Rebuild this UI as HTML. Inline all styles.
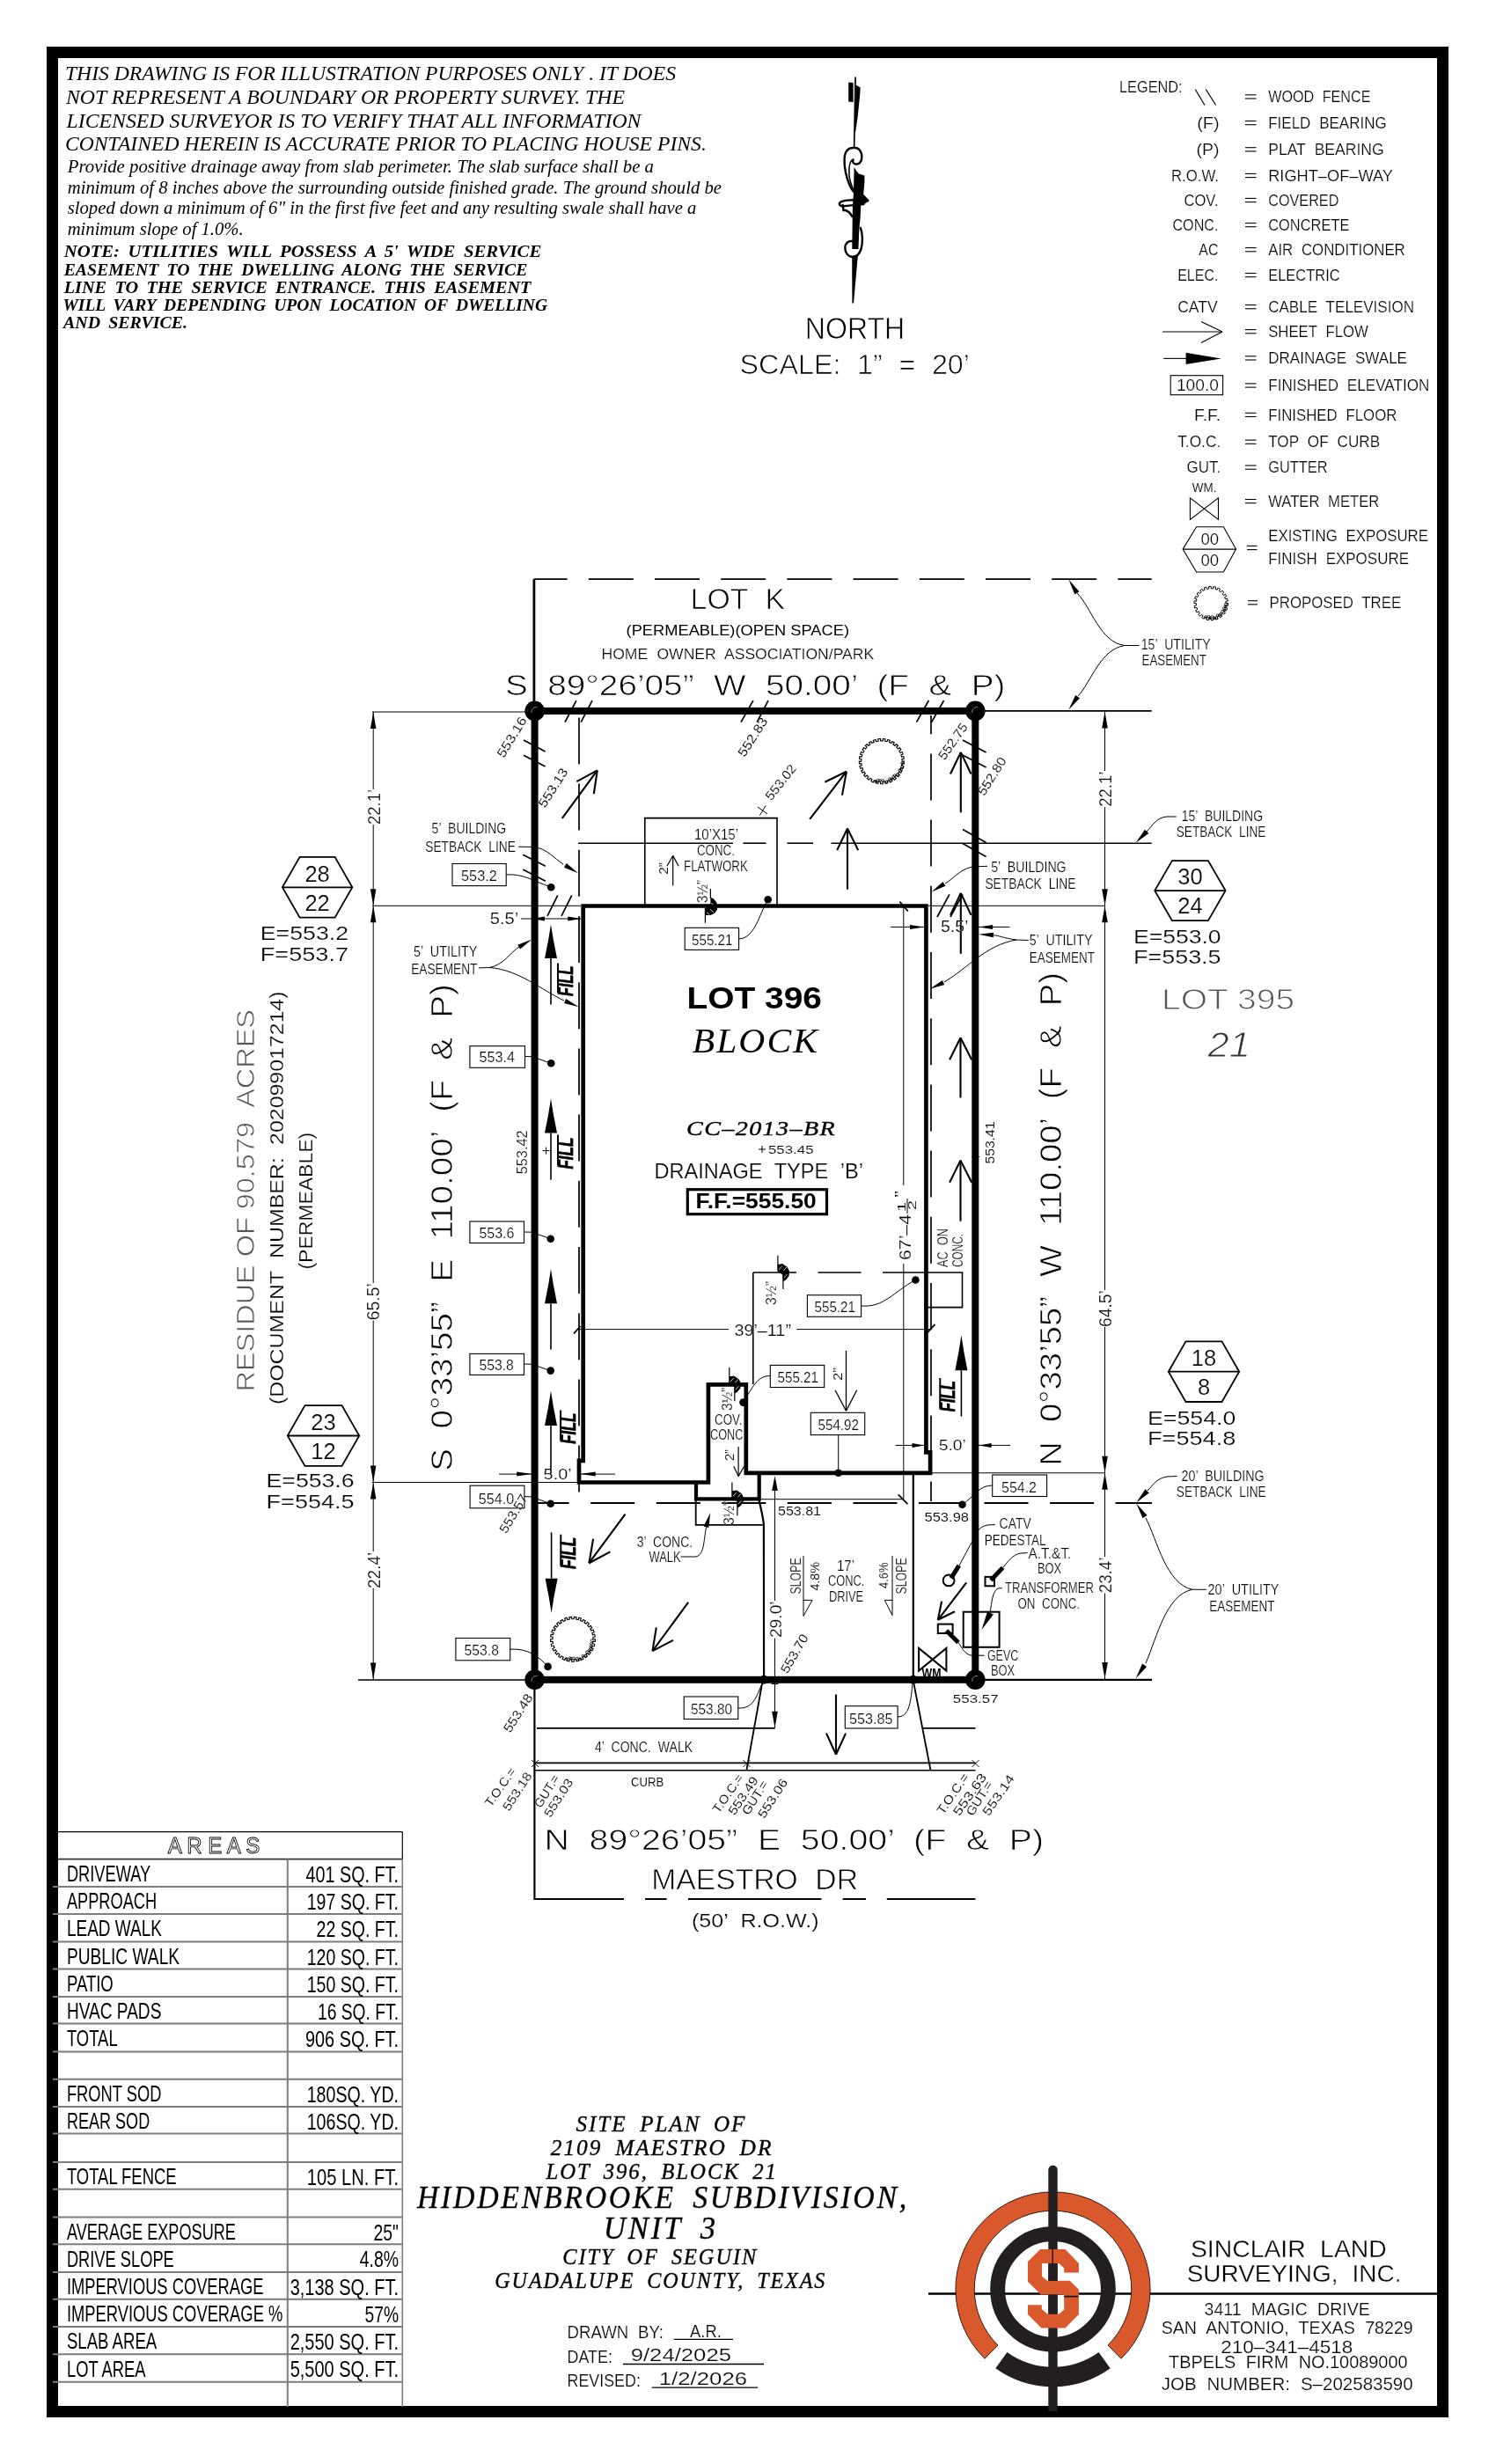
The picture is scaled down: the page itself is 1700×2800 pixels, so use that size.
<!DOCTYPE html>
<html><head><meta charset="utf-8"><title>Site Plan</title>
<style>
html,body{margin:0;padding:0;background:#fff}
svg{display:block;will-change:transform}
text{fill:#000;white-space:pre}
.c{font-family:"Liberation Sans",sans-serif;stroke:#fff;stroke-width:.018em;word-spacing:.3em}
.cb{font-family:"Liberation Sans",sans-serif;font-weight:bold}
.cn{font-family:"Liberation Sans",sans-serif}
.g{font-family:"Liberation Sans",sans-serif;fill:#555;stroke:#fff;stroke-width:.5px}
.ti{font-family:"Liberation Serif",serif;font-style:italic;letter-spacing:.08em;word-spacing:.25em;stroke:#000;stroke-width:.35px}
.cn2{font-family:"Liberation Sans",sans-serif;stroke:#fff;stroke-width:.25px;word-spacing:.3em}
.ti2{font-family:"Liberation Serif",serif;font-style:italic;letter-spacing:.05em}
.tib{font-family:"Liberation Serif",serif;font-style:italic;font-weight:bold;letter-spacing:.05em}
.gi{font-family:"Liberation Sans",sans-serif;font-style:italic;fill:#333;stroke:#fff;stroke-width:.5px}
.fl{font-family:"Liberation Sans",sans-serif;font-style:italic;font-weight:bold;stroke:#000;stroke-width:.7px}
.ti3{font-family:"Liberation Serif",serif;font-style:italic;stroke:#000;stroke-width:.4px;letter-spacing:.05em}
.i{font-family:"Liberation Serif",serif;font-style:italic}
.bi{font-family:"Liberation Serif",serif;font-style:italic;font-weight:bold}
.ci{font-family:"Liberation Sans",sans-serif;font-style:italic;stroke:#fff;stroke-width:.4px}
.cbi{font-family:"Liberation Sans",sans-serif;font-style:italic;font-weight:bold}
.ol{font-family:"Liberation Sans",sans-serif;fill:#fff;stroke:#000;stroke-width:.9px}
</style></head><body>
<svg width="1700" height="2800" viewBox="0 0 1700 2800">
<rect x="0" y="0" width="1700" height="2800" fill="#fff"/>
<g id="p01_border_notes">
<rect x="59.5" y="59.5" width="1580.0" height="2681.0" stroke="#000" stroke-width="13" fill="none"/>
<text class="i" x="73.9" y="90.9" font-size="23.7" textLength="694.1" lengthAdjust="spacingAndGlyphs" >THIS DRAWING IS FOR ILLUSTRATION PURPOSES ONLY . IT DOES</text>
<text class="i" x="75.0" y="117.8" font-size="23.7" textLength="635.0" lengthAdjust="spacingAndGlyphs" >NOT REPRESENT A BOUNDARY OR PROPERTY SURVEY. THE</text>
<text class="i" x="75.6" y="144.9" font-size="23.7" textLength="652.8" lengthAdjust="spacingAndGlyphs" >LICENSED SURVEYOR IS TO VERIFY THAT ALL INFORMATION</text>
<text class="i" x="73.9" y="171.1" font-size="23.7" textLength="728.9" lengthAdjust="spacingAndGlyphs" >CONTAINED HEREIN IS ACCURATE PRIOR TO PLACING HOUSE PINS.</text>
<text class="i" x="76.7" y="196.0" font-size="20.5" textLength="666.3" lengthAdjust="spacingAndGlyphs" >Provide positive drainage away from slab perimeter. The slab surface shall be a</text>
<text class="i" x="76.7" y="219.9" font-size="20.5" textLength="743.3" lengthAdjust="spacingAndGlyphs" >minimum of 8 inches above the surrounding outside finished grade. The ground should be</text>
<text class="i" x="76.7" y="243.2" font-size="20.5" textLength="714.8" lengthAdjust="spacingAndGlyphs" >sloped down a minimum of 6" in the first five feet and any resulting swale shall have a</text>
<text class="i" x="76.7" y="267.0" font-size="20.5" textLength="200.0" lengthAdjust="spacingAndGlyphs" >minimum slope of 1.0%.</text>
<text class="bi" x="72.7" y="292.3" font-size="18.8" textLength="542.6" lengthAdjust="spacingAndGlyphs" word-spacing="4">NOTE: UTILITIES WILL POSSESS A 5' WIDE SERVICE</text>
<text class="bi" x="72.7" y="312.8" font-size="18.8" textLength="526.7" lengthAdjust="spacingAndGlyphs" word-spacing="4">EASEMENT TO THE DWELLING ALONG THE SERVICE</text>
<text class="bi" x="72.7" y="332.7" font-size="18.8" textLength="530.7" lengthAdjust="spacingAndGlyphs" word-spacing="4">LINE TO THE SERVICE ENTRANCE. THIS EASEMENT</text>
<text class="bi" x="71.5" y="352.6" font-size="18.8" textLength="550.5" lengthAdjust="spacingAndGlyphs" word-spacing="4">WILL VARY DEPENDING UPON LOCATION OF DWELLING</text>
<text class="bi" x="72.0" y="372.5" font-size="18.8" textLength="141.0" lengthAdjust="spacingAndGlyphs" word-spacing="4">AND SERVICE.</text>
</g>
<g id="p02_north">
<line x1="972.1" y1="87.4" x2="970.6" y2="168.3" stroke="#000" stroke-width="1.7"/>
<path d="M964.2,93.5 L969.6,94 L969.6,116 L964.2,115.5 Z" fill="#000"/>
<path d="M972.6,96.5 L977.7,99.4 L977.1,109 L974.8,131.2 L972.2,150 L971.2,150 Z" fill="#000"/>
<path d="M970.6,168 C964,167.5 960,172 959.6,180 C959.2,190 961,200 965.9,211.3 C967.5,215 969,217 970.6,218.4" stroke="#000" stroke-width="2.4" fill="none" />
<path d="M970.6,168 C976,167.5 979.5,172 979.3,179 C979,185 975.5,187.2 971.5,186.4 C968.8,185.5 968.6,182 970,180.5" stroke="#000" stroke-width="2.4" fill="none" />
<path d="M968.2,181.5 C965,185 964.3,190 965,199.5 C965.6,205 967.6,211 970.6,217" stroke="#000" stroke-width="1.6" fill="none" />
<path d="M970.6,190 L973.5,194.5 L976,197.5 L982.4,199.5 L982.4,206.6 L981.2,220.7 L987.7,227.8 L982.4,231.9 L978.3,232.5 L977.7,246.6 L976.5,258.4 L975.4,283 L968.3,283 L968.9,234 L970,219 Z" fill="#000"/>
<path d="M987.2,228.2 C975,227 962,227.2 956.8,228.8 C952.8,230.2 952.8,233.2 957,234.4 C962,234.2 975,232.6 982.4,231.9" stroke="#000" stroke-width="2.4" fill="none" />
<path d="M957.5,232 L958.5,239 L961,239 C964,240 967,243 968.9,247" stroke="#000" stroke-width="2.4" fill="none" />
<path d="M977.6,258 C980.5,265 980.6,276 978.5,283 C976.5,289 973,292 968.8,292 C963.5,291.5 960.2,287 960.3,281.5 C960.6,276.5 964,273.6 968,274 C970.5,274.5 971,277 969.8,279" stroke="#000" stroke-width="2.4" fill="none" />
<path d="M968.2,291 L975,289 L970,344.6 L968.4,344.6 Z" fill="#000"/>
<text class="c" x="914.8" y="384.7" font-size="35.5" style="stroke-width:0.75px" textLength="113.5" lengthAdjust="spacingAndGlyphs" >NORTH</text>
<text class="c" x="840.6" y="425.3" font-size="31.5" style="stroke-width:0.75px" textLength="261.4" lengthAdjust="spacingAndGlyphs" >SCALE: 1” = 20’</text>
</g>
<g id="p03_legend">
<text class="c" x="1272.0" y="105.3" font-size="17.5" style="stroke-width:0.22px" textLength="71.6" lengthAdjust="spacingAndGlyphs" >LEGEND:</text>
<text class="c" x="1441.2" y="116.0" font-size="17.5" style="stroke-width:0.22px" textLength="116.3" lengthAdjust="spacingAndGlyphs" >WOOD FENCE</text>
<line x1="1415.0" y1="107.8" x2="1427.5" y2="107.8" stroke="#000" stroke-width="1.1"/>
<line x1="1415.0" y1="112.0" x2="1427.5" y2="112.0" stroke="#000" stroke-width="1.1"/>
<text class="c" x="1441.2" y="145.7" font-size="17.5" style="stroke-width:0.22px" textLength="134.5" lengthAdjust="spacingAndGlyphs" >FIELD BEARING</text>
<line x1="1415.0" y1="137.5" x2="1427.5" y2="137.5" stroke="#000" stroke-width="1.1"/>
<line x1="1415.0" y1="141.7" x2="1427.5" y2="141.7" stroke="#000" stroke-width="1.1"/>
<text class="c" x="1441.2" y="175.9" font-size="17.5" style="stroke-width:0.22px" textLength="131.5" lengthAdjust="spacingAndGlyphs" >PLAT BEARING</text>
<line x1="1415.0" y1="167.7" x2="1427.5" y2="167.7" stroke="#000" stroke-width="1.1"/>
<line x1="1415.0" y1="171.9" x2="1427.5" y2="171.9" stroke="#000" stroke-width="1.1"/>
<text class="c" x="1441.2" y="205.6" font-size="17.5" style="stroke-width:0.22px" textLength="141.7" lengthAdjust="spacingAndGlyphs" >RIGHT–OF–WAY</text>
<line x1="1415.0" y1="197.4" x2="1427.5" y2="197.4" stroke="#000" stroke-width="1.1"/>
<line x1="1415.0" y1="201.6" x2="1427.5" y2="201.6" stroke="#000" stroke-width="1.1"/>
<text class="c" x="1441.2" y="233.6" font-size="17.5" style="stroke-width:0.22px" textLength="80.2" lengthAdjust="spacingAndGlyphs" >COVERED</text>
<line x1="1415.0" y1="225.4" x2="1427.5" y2="225.4" stroke="#000" stroke-width="1.1"/>
<line x1="1415.0" y1="229.6" x2="1427.5" y2="229.6" stroke="#000" stroke-width="1.1"/>
<text class="c" x="1441.2" y="261.7" font-size="17.5" style="stroke-width:0.22px" textLength="92.2" lengthAdjust="spacingAndGlyphs" >CONCRETE</text>
<line x1="1415.0" y1="253.5" x2="1427.5" y2="253.5" stroke="#000" stroke-width="1.1"/>
<line x1="1415.0" y1="257.7" x2="1427.5" y2="257.7" stroke="#000" stroke-width="1.1"/>
<text class="c" x="1441.2" y="289.8" font-size="17.5" style="stroke-width:0.22px" textLength="155.6" lengthAdjust="spacingAndGlyphs" >AIR CONDITIONER</text>
<line x1="1415.0" y1="281.6" x2="1427.5" y2="281.6" stroke="#000" stroke-width="1.1"/>
<line x1="1415.0" y1="285.8" x2="1427.5" y2="285.8" stroke="#000" stroke-width="1.1"/>
<text class="c" x="1441.2" y="318.7" font-size="17.5" style="stroke-width:0.22px" textLength="81.5" lengthAdjust="spacingAndGlyphs" >ELECTRIC</text>
<line x1="1415.0" y1="310.5" x2="1427.5" y2="310.5" stroke="#000" stroke-width="1.1"/>
<line x1="1415.0" y1="314.7" x2="1427.5" y2="314.7" stroke="#000" stroke-width="1.1"/>
<text class="c" x="1441.2" y="354.8" font-size="17.5" style="stroke-width:0.22px" textLength="165.8" lengthAdjust="spacingAndGlyphs" >CABLE TELEVISION</text>
<line x1="1415.0" y1="346.6" x2="1427.5" y2="346.6" stroke="#000" stroke-width="1.1"/>
<line x1="1415.0" y1="350.8" x2="1427.5" y2="350.8" stroke="#000" stroke-width="1.1"/>
<text class="c" x="1441.2" y="382.8" font-size="17.5" style="stroke-width:0.22px" textLength="113.6" lengthAdjust="spacingAndGlyphs" >SHEET FLOW</text>
<line x1="1415.0" y1="374.6" x2="1427.5" y2="374.6" stroke="#000" stroke-width="1.1"/>
<line x1="1415.0" y1="378.8" x2="1427.5" y2="378.8" stroke="#000" stroke-width="1.1"/>
<text class="c" x="1441.2" y="413.0" font-size="17.5" style="stroke-width:0.22px" textLength="157.8" lengthAdjust="spacingAndGlyphs" >DRAINAGE SWALE</text>
<line x1="1415.0" y1="404.8" x2="1427.5" y2="404.8" stroke="#000" stroke-width="1.1"/>
<line x1="1415.0" y1="409.0" x2="1427.5" y2="409.0" stroke="#000" stroke-width="1.1"/>
<text class="c" x="1441.2" y="444.1" font-size="17.5" style="stroke-width:0.22px" textLength="183.1" lengthAdjust="spacingAndGlyphs" >FINISHED ELEVATION</text>
<line x1="1415.0" y1="435.9" x2="1427.5" y2="435.9" stroke="#000" stroke-width="1.1"/>
<line x1="1415.0" y1="440.1" x2="1427.5" y2="440.1" stroke="#000" stroke-width="1.1"/>
<text class="c" x="1441.2" y="477.5" font-size="17.5" style="stroke-width:0.22px" textLength="146.2" lengthAdjust="spacingAndGlyphs" >FINISHED FLOOR</text>
<line x1="1415.0" y1="469.3" x2="1427.5" y2="469.3" stroke="#000" stroke-width="1.1"/>
<line x1="1415.0" y1="473.5" x2="1427.5" y2="473.5" stroke="#000" stroke-width="1.1"/>
<text class="c" x="1441.2" y="508.3" font-size="17.5" style="stroke-width:0.22px" textLength="127.0" lengthAdjust="spacingAndGlyphs" >TOP OF CURB</text>
<line x1="1415.0" y1="500.1" x2="1427.5" y2="500.1" stroke="#000" stroke-width="1.1"/>
<line x1="1415.0" y1="504.3" x2="1427.5" y2="504.3" stroke="#000" stroke-width="1.1"/>
<text class="c" x="1441.2" y="537.2" font-size="17.5" style="stroke-width:0.22px" textLength="67.4" lengthAdjust="spacingAndGlyphs" >GUTTER</text>
<line x1="1415.0" y1="529.0" x2="1427.5" y2="529.0" stroke="#000" stroke-width="1.1"/>
<line x1="1415.0" y1="533.2" x2="1427.5" y2="533.2" stroke="#000" stroke-width="1.1"/>
<text class="c" x="1441.2" y="575.7" font-size="17.5" style="stroke-width:0.22px" textLength="126.2" lengthAdjust="spacingAndGlyphs" >WATER METER</text>
<line x1="1415.0" y1="567.5" x2="1427.5" y2="567.5" stroke="#000" stroke-width="1.1"/>
<line x1="1415.0" y1="571.7" x2="1427.5" y2="571.7" stroke="#000" stroke-width="1.1"/>
<text class="c" x="1441.2" y="615.2" font-size="17.5" style="stroke-width:0.22px" textLength="181.8" lengthAdjust="spacingAndGlyphs" >EXISTING EXPOSURE</text>
<text class="c" x="1441.2" y="640.6" font-size="17.5" style="stroke-width:0.22px" textLength="159.8" lengthAdjust="spacingAndGlyphs" >FINISH EXPOSURE</text>
<line x1="1417.0" y1="620.4" x2="1428.5" y2="620.4" stroke="#000" stroke-width="1.1"/>
<line x1="1417.0" y1="624.6" x2="1428.5" y2="624.6" stroke="#000" stroke-width="1.1"/>
<text class="c" x="1442.5" y="690.9" font-size="17.5" style="stroke-width:0.22px" textLength="149.7" lengthAdjust="spacingAndGlyphs" >PROPOSED TREE</text>
<line x1="1418.0" y1="682.7" x2="1429.0" y2="682.7" stroke="#000" stroke-width="1.1"/>
<line x1="1418.0" y1="686.9" x2="1429.0" y2="686.9" stroke="#000" stroke-width="1.1"/>
<text class="c" x="1360.2" y="145.7" font-size="17.5" style="stroke-width:0.22px" textLength="25.4" lengthAdjust="spacingAndGlyphs" >(F)</text>
<text class="c" x="1359.6" y="175.9" font-size="17.5" style="stroke-width:0.22px" textLength="26.0" lengthAdjust="spacingAndGlyphs" >(P)</text>
<text class="c" x="1331.0" y="205.6" font-size="17.5" style="stroke-width:0.22px" textLength="54.0" lengthAdjust="spacingAndGlyphs" >R.O.W.</text>
<text class="c" x="1345.5" y="233.6" font-size="17.5" style="stroke-width:0.22px" textLength="39.0" lengthAdjust="spacingAndGlyphs" >COV.</text>
<text class="c" x="1332.4" y="261.7" font-size="17.5" style="stroke-width:0.22px" textLength="52.1" lengthAdjust="spacingAndGlyphs" >CONC.</text>
<text class="c" x="1362.3" y="289.8" font-size="17.5" style="stroke-width:0.22px" textLength="22.2" lengthAdjust="spacingAndGlyphs" >AC</text>
<text class="c" x="1338.2" y="318.7" font-size="17.5" style="stroke-width:0.22px" textLength="46.3" lengthAdjust="spacingAndGlyphs" >ELEC.</text>
<text class="c" x="1338.2" y="354.8" font-size="17.5" style="stroke-width:0.22px" textLength="45.5" lengthAdjust="spacingAndGlyphs" >CATV</text>
<text class="c" x="1357.0" y="477.5" font-size="17.5" style="stroke-width:0.22px" textLength="30.2" lengthAdjust="spacingAndGlyphs" >F.F.</text>
<text class="c" x="1338.2" y="508.3" font-size="17.5" style="stroke-width:0.22px" textLength="49.0" lengthAdjust="spacingAndGlyphs" >T.O.C.</text>
<text class="c" x="1348.4" y="537.2" font-size="17.5" style="stroke-width:0.22px" textLength="38.8" lengthAdjust="spacingAndGlyphs" >GUT.</text>
<text class="c" x="1354.8" y="558.6" font-size="15" style="stroke-width:0.12px" textLength="27.6" lengthAdjust="spacingAndGlyphs" >WM.</text>
<line x1="1358.3" y1="101.5" x2="1369.0" y2="119.5" stroke="#000" stroke-width="1.2"/>
<line x1="1370.3" y1="101.5" x2="1381.6" y2="119.5" stroke="#000" stroke-width="1.2"/>
<line x1="1320.9" y1="377.0" x2="1389.0" y2="377.0" stroke="#000" stroke-width="1.1"/>
<line x1="1365.0" y1="365.5" x2="1389.0" y2="377.0" stroke="#000" stroke-width="1.1"/>
<line x1="1365.0" y1="389.5" x2="1389.0" y2="377.0" stroke="#000" stroke-width="1.1"/>
<line x1="1322.2" y1="407.4" x2="1350.0" y2="407.4" stroke="#000" stroke-width="1.1"/>
<path d="M1347.6,400.7 L1387.7,407.4 L1347.6,414.1 Z" fill="#000"/>
<rect x="1330.2" y="426.7" width="59.4" height="22.0" stroke="#000" stroke-width="1.1" fill="none"/>
<text class="c" x="1336.9" y="444.1" font-size="17.5" style="stroke-width:0.22px" textLength="48.1" lengthAdjust="spacingAndGlyphs" >100.0</text>
<path d="M1352.4,565.8 L1352.4,590.4 L1384.5,565.8 L1384.5,590.4 Z" stroke="#000" stroke-width="1.1" fill="none" stroke-linejoin="miter"/>
<path d="M1344.1,624.1 L1359.6,598.7 L1390.4,598.7 L1404.5,624.1 L1390.4,650.0 L1359.6,650.0 Z" stroke="#000" stroke-width="1.1" fill="none" stroke-linejoin="miter"/>
<line x1="1344.1" y1="624.1" x2="1404.5" y2="624.1" stroke="#000" stroke-width="1.1"/>
<text class="c" x="1364.4" y="618.7" font-size="17.5" style="stroke-width:0.22px" textLength="20.6" lengthAdjust="spacingAndGlyphs" >00</text>
<text class="c" x="1364.4" y="642.8" font-size="17.5" style="stroke-width:0.22px" textLength="20.6" lengthAdjust="spacingAndGlyphs" >00</text>
<path d="M1395.5,685.6 L1395.3,688.3 L1392.9,688.0 L1392.4,690.4 L1394.7,691.0 L1393.8,693.6 L1391.6,692.6 L1390.4,694.7 L1392.4,696.0 L1390.8,698.2 L1389.0,696.7 L1387.3,698.4 L1388.8,700.2 L1386.6,701.8 L1385.3,699.8 L1383.2,701.0 L1384.2,703.2 L1381.6,704.1 L1381.0,701.8 L1378.6,702.3 L1378.9,704.7 L1376.2,704.9 L1376.2,702.5 L1373.8,702.3 L1373.5,704.7 L1370.8,704.1 L1371.4,701.8 L1369.2,701.0 L1368.2,703.2 L1365.8,701.8 L1367.1,699.8 L1365.1,698.4 L1363.6,700.2 L1361.6,698.2 L1363.4,696.7 L1362.0,694.7 L1360.0,696.0 L1358.6,693.6 L1360.8,692.6 L1360.0,690.4 L1357.7,691.0 L1357.1,688.3 L1359.5,688.0 L1359.3,685.6 L1356.9,685.6 L1357.1,682.9 L1359.5,683.2 L1360.0,680.8 L1357.7,680.2 L1358.6,677.6 L1360.8,678.6 L1362.0,676.5 L1360.0,675.2 L1361.6,673.0 L1363.4,674.5 L1365.1,672.8 L1363.6,671.0 L1365.8,669.4 L1367.1,671.4 L1369.2,670.2 L1368.2,668.0 L1370.8,667.1 L1371.4,669.4 L1373.8,668.9 L1373.5,666.5 L1376.2,666.3 L1376.2,668.7 L1378.6,668.9 L1378.9,666.5 L1381.6,667.1 L1381.0,669.4 L1383.2,670.2 L1384.2,668.0 L1386.6,669.4 L1385.3,671.4 L1387.3,672.8 L1388.8,671.0 L1390.8,673.0 L1389.0,674.5 L1390.4,676.5 L1392.4,675.2 L1393.8,677.6 L1391.6,678.6 L1392.4,680.8 L1394.7,680.2 L1395.3,682.9 L1392.9,683.2 L1393.1,685.6 Z" stroke="#000" stroke-width="1" fill="none" stroke-linejoin="miter"/>
<circle cx="1392.8" cy="686.6" r="1.4" stroke="#000" stroke-width="0.8" fill="none"/>
<circle cx="1392.6" cy="689.2" r="1.4" stroke="#000" stroke-width="0.8" fill="none"/>
<circle cx="1390.6" cy="691.3" r="1.4" stroke="#000" stroke-width="0.8" fill="none"/>
<circle cx="1391.8" cy="693.2" r="1.4" stroke="#000" stroke-width="0.8" fill="none"/>
<circle cx="1389.1" cy="694.8" r="1.4" stroke="#000" stroke-width="0.8" fill="none"/>
<circle cx="1387.2" cy="697.8" r="1.4" stroke="#000" stroke-width="0.8" fill="none"/>
<circle cx="1385.7" cy="699.1" r="1.4" stroke="#000" stroke-width="0.8" fill="none"/>
<circle cx="1383.6" cy="699.4" r="1.4" stroke="#000" stroke-width="0.8" fill="none"/>
<circle cx="1382.2" cy="702.0" r="1.4" stroke="#000" stroke-width="0.8" fill="none"/>
<circle cx="1380.0" cy="702.3" r="1.4" stroke="#000" stroke-width="0.8" fill="none"/>
<circle cx="1377.3" cy="701.0" r="1.4" stroke="#000" stroke-width="0.8" fill="none"/>
<circle cx="1374.9" cy="702.3" r="1.4" stroke="#000" stroke-width="0.8" fill="none"/>
<circle cx="1373.6" cy="700.8" r="1.4" stroke="#000" stroke-width="0.8" fill="none"/>
<circle cx="1370.2" cy="701.0" r="1.4" stroke="#000" stroke-width="0.8" fill="none"/>
</g>
<g id="p04_geom">
<line x1="606.9" y1="658.2" x2="606.9" y2="807.9" stroke="#000" stroke-width="2.8"/>
<path d="M606.7,658.2 L1308.7,658.2" stroke="#000" stroke-width="1.8" stroke-dasharray="51 24.2" stroke-dashoffset="13.1" fill="none"/>
<line x1="1108.3" y1="807.9" x2="1308.7" y2="807.9" stroke="#000" stroke-width="1.8"/>
<line x1="1108.3" y1="1908.8" x2="1309.0" y2="1908.8" stroke="#000" stroke-width="2.2"/>
<line x1="657.0" y1="958.2" x2="833.0" y2="958.2" stroke="#000" stroke-width="1.6"/>
<line x1="844.5" y1="958.2" x2="870.5" y2="958.2" stroke="#000" stroke-width="1.6"/>
<line x1="894.5" y1="958.2" x2="924.0" y2="958.2" stroke="#000" stroke-width="1.6"/>
<line x1="944.5" y1="958.2" x2="1308.7" y2="958.2" stroke="#000" stroke-width="1.6"/>
<line x1="423.0" y1="809.0" x2="600.0" y2="809.0" stroke="#000" stroke-width="1"/>
<line x1="423.0" y1="1029.3" x2="660.0" y2="1029.3" stroke="#000" stroke-width="1"/>
<line x1="423.0" y1="1684.5" x2="658.0" y2="1684.5" stroke="#000" stroke-width="1"/>
<line x1="407.0" y1="1909.0" x2="600.0" y2="1909.0" stroke="#000" stroke-width="1.6"/>
<line x1="1055.0" y1="1029.3" x2="1255.0" y2="1029.3" stroke="#000" stroke-width="1"/>
<line x1="1059.0" y1="1673.8" x2="1255.0" y2="1673.8" stroke="#000" stroke-width="1"/>
<path d="M658,813 L658,1706" stroke="#000" stroke-width="1.7" stroke-dasharray="53 22.2" stroke-dashoffset="72.8" fill="none"/>
<path d="M1058,813 L1058,1706" stroke="#000" stroke-width="1.7" stroke-dasharray="53 22.2" stroke-dashoffset="31.8" fill="none"/>
<path d="M611,1708 L1309,1708" stroke="#000" stroke-width="1.9" stroke-dasharray="50 24.55" stroke-dashoffset="14.35" fill="none"/>
<path d="M732.8,1029.0 L732.8,929.6 L883.0,929.6 L883.0,1029.0" stroke="#000" stroke-width="1.6" fill="none" stroke-linejoin="miter"/>
<line x1="855.8" y1="1446.0" x2="855.8" y2="1573.0" stroke="#000" stroke-width="1.6"/>
<path d="M856,1446 L1052,1446" stroke="#000" stroke-width="1.7" stroke-dasharray="49 24.5" fill="none"/>
<path d="M1052.4,1446.0 L1093.5,1446.0 L1093.5,1485.6 L1052.4,1485.6" stroke="#000" stroke-width="1.6" fill="none" stroke-linejoin="miter"/>
<path d="M790.7,1703.0 L790.7,1732.8 L866.6,1732.8" stroke="#000" stroke-width="1.8" fill="none" stroke-linejoin="miter"/>
<path d="M862.4,1704 C864,1712 867,1722 867.9,1732.8 L868.1,1908" stroke="#000" stroke-width="2.2" fill="none" />
<line x1="1037.8" y1="1674.0" x2="1037.8" y2="1908.0" stroke="#000" stroke-width="2.2"/>
<line x1="866.6" y1="1910.0" x2="848.4" y2="2011.5" stroke="#000" stroke-width="1.8"/>
<line x1="1037.8" y1="1910.0" x2="1057.5" y2="2011.5" stroke="#000" stroke-width="1.8"/>
<line x1="607.4" y1="1909.0" x2="607.4" y2="2159.0" stroke="#000" stroke-width="2.2"/>
<line x1="610.0" y1="1963.8" x2="880.5" y2="1963.8" stroke="#000" stroke-width="1.8"/>
<line x1="1049.0" y1="1963.8" x2="1108.5" y2="1963.8" stroke="#000" stroke-width="1.8"/>
<line x1="607.0" y1="2003.4" x2="1108.5" y2="2003.4" stroke="#000" stroke-width="1.8"/>
<line x1="607.0" y1="2011.7" x2="1108.5" y2="2011.7" stroke="#000" stroke-width="1.4"/>
<line x1="607.0" y1="2158.0" x2="709.0" y2="2158.0" stroke="#000" stroke-width="2"/>
<line x1="733.0" y1="2158.0" x2="757.5" y2="2158.0" stroke="#000" stroke-width="2"/>
<line x1="782.0" y1="2158.0" x2="933.4" y2="2158.0" stroke="#000" stroke-width="2"/>
<line x1="957.7" y1="2158.0" x2="984.0" y2="2158.0" stroke="#000" stroke-width="2"/>
<line x1="1007.8" y1="2158.0" x2="1108.4" y2="2158.0" stroke="#000" stroke-width="2"/>
<path d="M662.7,1029.5 L1052.4,1029.5 L1052.4,1650.3 L1057.1,1650.3 L1057.1,1673.8 L847.8,1673.8 L847.8,1573.3 L804.9,1573.3 L804.9,1684.5 L658.0,1684.5 L658.0,1659.9 L662.7,1659.9 Z" stroke="#000" stroke-width="4.7" fill="none" stroke-linejoin="miter"/>
<path d="M791.0,1684.5 L791.0,1703.3 L862.7,1703.3 L862.7,1674.0" stroke="#000" stroke-width="4.2" fill="none" stroke-linejoin="miter"/>
<rect x="607.6" y="807.9" width="500.7" height="1100.9" stroke="#000" stroke-width="8" fill="none"/>
<circle cx="607.6" cy="807.9" r="11.3" stroke="#000" stroke-width="0" fill="#000"/>
<path d="M604.1,809.9 C603.6,804.9 607.6,802.9 610.6,803.9" stroke="#aaa" stroke-width="0.8" fill="none"/>
<circle cx="1108.3" cy="807.9" r="11.3" stroke="#000" stroke-width="0" fill="#000"/>
<path d="M1104.8,809.9 C1104.3,804.9 1108.3,802.9 1111.3,803.9" stroke="#aaa" stroke-width="0.8" fill="none"/>
<circle cx="607.6" cy="1908.8" r="11.3" stroke="#000" stroke-width="0" fill="#000"/>
<path d="M604.1,1910.8 C603.6,1905.8 607.6,1903.8 610.6,1904.8" stroke="#aaa" stroke-width="0.8" fill="none"/>
<circle cx="1108.3" cy="1908.8" r="11.3" stroke="#000" stroke-width="0" fill="#000"/>
<path d="M1104.8,1910.8 C1104.3,1905.8 1108.3,1903.8 1111.3,1904.8" stroke="#aaa" stroke-width="0.8" fill="none"/>
<circle cx="868.1" cy="1908.8" r="5.0" stroke="#000" stroke-width="0" fill="#000"/>
<circle cx="1037.8" cy="1908.8" r="5.0" stroke="#000" stroke-width="0" fill="#000"/>
<path d="M1027.5,865.1 L1027.3,867.9 L1025.0,867.6 L1024.6,870.1 L1026.9,870.6 L1026.2,873.3 L1023.9,872.5 L1023.0,874.8 L1025.1,875.8 L1023.8,878.3 L1021.8,877.1 L1020.4,879.1 L1022.3,880.6 L1020.5,882.7 L1018.7,881.1 L1016.9,882.8 L1018.5,884.6 L1016.3,886.3 L1014.9,884.3 L1012.8,885.6 L1013.9,887.7 L1011.4,888.9 L1010.5,886.7 L1008.1,887.5 L1008.7,889.8 L1006.0,890.4 L1005.7,888.0 L1003.2,888.3 L1003.3,890.7 L1000.5,890.7 L1000.6,888.3 L998.1,888.0 L997.8,890.4 L995.1,889.8 L995.7,887.5 L993.3,886.7 L992.4,888.9 L989.9,887.7 L991.0,885.6 L988.9,884.3 L987.5,886.3 L985.3,884.6 L986.9,882.8 L985.1,881.1 L983.3,882.7 L981.5,880.6 L983.4,879.1 L982.0,877.1 L980.0,878.3 L978.7,875.8 L980.8,874.8 L979.9,872.5 L977.6,873.3 L976.9,870.6 L979.2,870.1 L978.8,867.6 L976.5,867.9 L976.3,865.1 L978.7,865.1 L978.8,862.6 L976.5,862.3 L976.9,859.6 L979.2,860.1 L979.9,857.7 L977.6,856.9 L978.7,854.4 L980.8,855.4 L982.0,853.1 L980.0,851.9 L981.5,849.6 L983.4,851.1 L985.1,849.1 L983.3,847.5 L985.3,845.6 L986.9,847.4 L988.9,845.9 L987.5,843.9 L989.9,842.5 L991.0,844.6 L993.3,843.5 L992.4,841.3 L995.1,840.4 L995.7,842.7 L998.1,842.2 L997.8,839.8 L1000.5,839.5 L1000.6,841.9 L1003.2,841.9 L1003.3,839.5 L1006.0,839.8 L1005.7,842.2 L1008.1,842.7 L1008.7,840.4 L1011.4,841.3 L1010.5,843.5 L1012.8,844.6 L1013.9,842.5 L1016.3,843.9 L1014.9,845.9 L1016.9,847.4 L1018.5,845.6 L1020.5,847.5 L1018.7,849.1 L1020.4,851.1 L1022.3,849.6 L1023.8,851.9 L1021.8,853.1 L1023.0,855.4 L1025.1,854.4 L1026.2,856.9 L1023.9,857.7 L1024.6,860.1 L1026.9,859.6 L1027.3,862.3 L1025.0,862.6 L1025.1,865.1 Z" stroke="#000" stroke-width="1.1" fill="none" stroke-linejoin="miter"/>
<circle cx="1025.2" cy="867.4" r="1.4" stroke="#000" stroke-width="0.8" fill="none"/>
<circle cx="1025.1" cy="871.2" r="1.4" stroke="#000" stroke-width="0.8" fill="none"/>
<circle cx="1024.0" cy="874.2" r="1.4" stroke="#000" stroke-width="0.8" fill="none"/>
<circle cx="1022.3" cy="875.1" r="1.4" stroke="#000" stroke-width="0.8" fill="none"/>
<circle cx="1019.8" cy="879.9" r="1.4" stroke="#000" stroke-width="0.8" fill="none"/>
<circle cx="1016.7" cy="881.2" r="1.4" stroke="#000" stroke-width="0.8" fill="none"/>
<circle cx="1015.3" cy="882.8" r="1.4" stroke="#000" stroke-width="0.8" fill="none"/>
<circle cx="1013.0" cy="885.3" r="1.4" stroke="#000" stroke-width="0.8" fill="none"/>
<circle cx="1010.9" cy="885.3" r="1.4" stroke="#000" stroke-width="0.8" fill="none"/>
<circle cx="1007.8" cy="888.2" r="1.4" stroke="#000" stroke-width="0.8" fill="none"/>
<circle cx="1003.2" cy="887.1" r="1.4" stroke="#000" stroke-width="0.8" fill="none"/>
<circle cx="1000.1" cy="887.0" r="1.4" stroke="#000" stroke-width="0.8" fill="none"/>
<circle cx="997.5" cy="886.6" r="1.4" stroke="#000" stroke-width="0.8" fill="none"/>
<circle cx="995.3" cy="888.0" r="1.4" stroke="#000" stroke-width="0.8" fill="none"/>
<path d="M676.4,1862.8 L676.3,1865.5 L673.9,1865.3 L673.5,1867.7 L675.8,1868.3 L675.1,1870.9 L672.8,1870.1 L671.9,1872.5 L674.1,1873.5 L672.8,1875.9 L670.7,1874.7 L669.3,1876.7 L671.2,1878.2 L669.4,1880.3 L667.7,1878.6 L665.9,1880.3 L667.4,1882.2 L665.3,1883.8 L663.9,1881.8 L661.8,1883.1 L662.9,1885.2 L660.4,1886.4 L659.5,1884.2 L657.2,1885.0 L657.8,1887.3 L655.1,1887.9 L654.7,1885.5 L652.2,1885.8 L652.4,1888.2 L649.6,1888.2 L649.8,1885.8 L647.3,1885.5 L646.9,1887.9 L644.2,1887.3 L644.8,1885.0 L642.5,1884.2 L641.6,1886.4 L639.1,1885.2 L640.2,1883.1 L638.1,1881.8 L636.7,1883.8 L634.6,1882.2 L636.1,1880.3 L634.3,1878.6 L632.6,1880.3 L630.8,1878.2 L632.7,1876.7 L631.3,1874.7 L629.2,1875.9 L627.9,1873.5 L630.1,1872.5 L629.2,1870.1 L626.9,1870.9 L626.2,1868.3 L628.5,1867.7 L628.1,1865.3 L625.7,1865.5 L625.6,1862.8 L628.0,1862.8 L628.1,1860.3 L625.7,1860.1 L626.2,1857.3 L628.5,1857.9 L629.2,1855.5 L626.9,1854.7 L627.9,1852.1 L630.1,1853.1 L631.3,1850.9 L629.2,1849.7 L630.8,1847.4 L632.7,1848.9 L634.3,1847.0 L632.6,1845.3 L634.6,1843.4 L636.1,1845.3 L638.1,1843.8 L636.7,1841.8 L639.1,1840.4 L640.2,1842.5 L642.5,1841.4 L641.6,1839.2 L644.2,1838.3 L644.8,1840.6 L647.3,1840.1 L646.9,1837.7 L649.6,1837.4 L649.8,1839.8 L652.2,1839.8 L652.4,1837.4 L655.1,1837.7 L654.7,1840.1 L657.2,1840.6 L657.8,1838.3 L660.4,1839.2 L659.5,1841.4 L661.8,1842.5 L662.9,1840.4 L665.3,1841.8 L663.9,1843.8 L665.9,1845.3 L667.4,1843.4 L669.4,1845.3 L667.7,1847.0 L669.3,1848.9 L671.2,1847.4 L672.8,1849.7 L670.7,1850.9 L671.9,1853.1 L674.1,1852.1 L675.1,1854.7 L672.8,1855.5 L673.5,1857.9 L675.8,1857.3 L676.3,1860.1 L673.9,1860.3 L674.0,1862.8 Z" stroke="#000" stroke-width="1.1" fill="none" stroke-linejoin="miter"/>
<circle cx="672.7" cy="1864.3" r="1.4" stroke="#000" stroke-width="0.8" fill="none"/>
<circle cx="671.9" cy="1868.0" r="1.4" stroke="#000" stroke-width="0.8" fill="none"/>
<circle cx="671.8" cy="1870.9" r="1.4" stroke="#000" stroke-width="0.8" fill="none"/>
<circle cx="671.3" cy="1872.9" r="1.4" stroke="#000" stroke-width="0.8" fill="none"/>
<circle cx="669.6" cy="1875.4" r="1.4" stroke="#000" stroke-width="0.8" fill="none"/>
<circle cx="667.0" cy="1877.4" r="1.4" stroke="#000" stroke-width="0.8" fill="none"/>
<circle cx="665.3" cy="1881.4" r="1.4" stroke="#000" stroke-width="0.8" fill="none"/>
<circle cx="662.4" cy="1881.6" r="1.4" stroke="#000" stroke-width="0.8" fill="none"/>
<circle cx="659.2" cy="1885.1" r="1.4" stroke="#000" stroke-width="0.8" fill="none"/>
<circle cx="655.9" cy="1884.7" r="1.4" stroke="#000" stroke-width="0.8" fill="none"/>
<circle cx="651.8" cy="1884.3" r="1.4" stroke="#000" stroke-width="0.8" fill="none"/>
<circle cx="649.0" cy="1884.8" r="1.4" stroke="#000" stroke-width="0.8" fill="none"/>
<circle cx="647.7" cy="1884.2" r="1.4" stroke="#000" stroke-width="0.8" fill="none"/>
<circle cx="643.8" cy="1885.1" r="1.4" stroke="#000" stroke-width="0.8" fill="none"/>
</g>
<g id="p05_text">
<text class="c" x="574.0" y="790.2" font-size="33" style="stroke-width:0.75px" textLength="568.4" lengthAdjust="spacingAndGlyphs" >S 89°26’05” W 50.00’ (F &amp; P)</text>
<text class="c" x="618.5" y="2102.0" font-size="33.5" style="stroke-width:0.75px" textLength="567.6" lengthAdjust="spacingAndGlyphs" >N 89°26’05” E 50.00’ (F &amp; P)</text>
<text class="c" x="513.9" y="1671.7" font-size="35.5" style="stroke-width:0.75px" textLength="553.7" lengthAdjust="spacingAndGlyphs" transform="rotate(-90.0 513.9 1671.7)">S 0°33’55” E 110.00’ (F &amp; P)</text>
<text class="c" x="1206.0" y="1665.8" font-size="35.5" style="stroke-width:0.75px" textLength="560.8" lengthAdjust="spacingAndGlyphs" transform="rotate(-90.0 1206.0 1665.8)">N 0°33’55” W 110.00’ (F &amp; P)</text>
<text class="c" x="784.6" y="692.0" font-size="33.5" style="stroke-width:0.75px" textLength="107.4" lengthAdjust="spacingAndGlyphs" >LOT K</text>
<text class="cn" x="711.6" y="722.2" font-size="17" textLength="253.4" lengthAdjust="spacingAndGlyphs" >(PERMEABLE)(OPEN SPACE)</text>
<text class="c" x="683.5" y="749.1" font-size="16.5" style="stroke-width:0.22px" textLength="309.7" lengthAdjust="spacingAndGlyphs" >HOME OWNER ASSOCIATION/PARK</text>
<text class="c" x="740.2" y="2147.4" font-size="34" style="stroke-width:0.75px" textLength="234.8" lengthAdjust="spacingAndGlyphs" >MAESTRO DR</text>
<text class="cn2" x="786.0" y="2189.5" font-size="21.5" style="stroke-width:0.24px" textLength="144.6" lengthAdjust="spacingAndGlyphs" >(50’ R.O.W.)</text>
<text class="g" x="1320.1" y="1147.1" font-size="33.6" style="stroke-width:0.98px" textLength="151.0" lengthAdjust="spacingAndGlyphs" >LOT 395</text>
<text class="gi" x="1372.6" y="1200.5" font-size="40" style="stroke-width:0.98px" textLength="48.4" lengthAdjust="spacingAndGlyphs" >21</text>
<text class="g" x="288.5" y="1581.5" font-size="28.6" style="stroke-width:0.72px" textLength="434.5" lengthAdjust="spacingAndGlyphs" transform="rotate(-90.0 288.5 1581.5)">RESIDUE OF 90.579  ACRES</text>
<text class="cn2" x="322.3" y="1596.0" font-size="22.5" style="stroke-width:0.24px" textLength="469.5" lengthAdjust="spacingAndGlyphs" transform="rotate(-90.0 322.3 1596.0)">(DOCUMENT NUMBER: 202099017214)</text>
<text class="cn2" x="355.5" y="1442.6" font-size="22.5" style="stroke-width:0.24px" textLength="155.8" lengthAdjust="spacingAndGlyphs" transform="rotate(-90.0 355.5 1442.6)">(PERMEABLE)</text>
<text class="cb" x="780.6" y="1146.4" font-size="34.5" textLength="153.4" lengthAdjust="spacingAndGlyphs" >LOT 396</text>
<text class="ti2" x="786.7" y="1196.0" font-size="41" textLength="144.3" lengthAdjust="spacingAndGlyphs" >BLOCK</text>
<text class="ti3" x="780.0" y="1289.6" font-size="24" textLength="170.0" lengthAdjust="spacingAndGlyphs" >CC–2013–BR</text>
<text class="c" x="873.0" y="1311.0" font-size="13.5" style="stroke-width:0.12px" textLength="51.5" lengthAdjust="spacingAndGlyphs" >553.45</text>
<line x1="862.0" y1="1306.0" x2="870.0" y2="1306.0" stroke="#000" stroke-width="1"/>
<line x1="866.0" y1="1302.0" x2="866.0" y2="1310.0" stroke="#000" stroke-width="1"/>
<text class="cn2" x="743.5" y="1338.5" font-size="24" style="stroke-width:0.24px" textLength="237.5" lengthAdjust="spacingAndGlyphs" >DRAINAGE TYPE ’B’</text>
<rect x="781.3" y="1351.7" width="158.2" height="28.0" stroke="#000" stroke-width="3.2" fill="none"/>
<text class="cb" x="790.6" y="1373.4" font-size="23.5" textLength="137.2" lengthAdjust="spacingAndGlyphs" >F.F.=555.50</text>
<path d="M320.9,1008.3 L340.6,973.9 L380.6,973.9 L400.3,1008.3 L380.6,1042.7 L340.6,1042.7 Z" stroke="#000" stroke-width="1.8" fill="none" stroke-linejoin="miter"/>
<line x1="320.9" y1="1008.3" x2="400.3" y2="1008.3" stroke="#000" stroke-width="1.8"/>
<text class="cn2" x="360.6" y="1001.5" font-size="25.5" style="stroke-width:0.24px" text-anchor="middle" >28</text>
<text class="cn2" x="360.6" y="1034.9" font-size="25.5" style="stroke-width:0.24px" text-anchor="middle" >22</text>
<text class="cn2" x="295.8" y="1068.1" font-size="22.5" style="stroke-width:0.24px" textLength="100.2" lengthAdjust="spacingAndGlyphs" >E=553.2</text>
<text class="cn2" x="295.8" y="1091.5" font-size="22.5" style="stroke-width:0.24px" textLength="100.2" lengthAdjust="spacingAndGlyphs" >F=553.7</text>
<path d="M326.8,1631.5 L346.5,1597.1 L388.5,1597.1 L408.2,1631.5 L388.5,1665.9 L346.5,1665.9 Z" stroke="#000" stroke-width="1.8" fill="none" stroke-linejoin="miter"/>
<line x1="326.8" y1="1631.5" x2="408.2" y2="1631.5" stroke="#000" stroke-width="1.8"/>
<text class="cn2" x="367.5" y="1624.7" font-size="25.5" style="stroke-width:0.24px" text-anchor="middle" >23</text>
<text class="cn2" x="367.5" y="1658.1" font-size="25.5" style="stroke-width:0.24px" text-anchor="middle" >12</text>
<text class="cn2" x="302.6" y="1690.3" font-size="22.5" style="stroke-width:0.24px" textLength="100.0" lengthAdjust="spacingAndGlyphs" >E=553.6</text>
<text class="cn2" x="302.6" y="1714.4" font-size="22.5" style="stroke-width:0.24px" textLength="100.0" lengthAdjust="spacingAndGlyphs" >F=554.5</text>
<path d="M1312.2,1012.1 L1331.9,978.1 L1372.9,978.1 L1392.6,1012.1 L1372.9,1046.1 L1331.9,1046.1 Z" stroke="#000" stroke-width="1.8" fill="none" stroke-linejoin="miter"/>
<line x1="1312.2" y1="1012.1" x2="1392.6" y2="1012.1" stroke="#000" stroke-width="1.8"/>
<text class="cn2" x="1352.4" y="1005.3" font-size="25.5" style="stroke-width:0.24px" text-anchor="middle" >30</text>
<text class="cn2" x="1352.4" y="1038.3" font-size="25.5" style="stroke-width:0.24px" text-anchor="middle" >24</text>
<text class="cn2" x="1288.0" y="1071.9" font-size="22.5" style="stroke-width:0.24px" textLength="99.6" lengthAdjust="spacingAndGlyphs" >E=553.0</text>
<text class="cn2" x="1288.0" y="1095.3" font-size="22.5" style="stroke-width:0.24px" textLength="99.6" lengthAdjust="spacingAndGlyphs" >F=553.5</text>
<path d="M1327.8,1558.7 L1347.5,1524.4 L1388.5,1524.4 L1408.2,1558.7 L1388.5,1593.0 L1347.5,1593.0 Z" stroke="#000" stroke-width="1.8" fill="none" stroke-linejoin="miter"/>
<line x1="1327.8" y1="1558.7" x2="1408.2" y2="1558.7" stroke="#000" stroke-width="1.8"/>
<text class="cn2" x="1368.0" y="1551.9" font-size="25.5" style="stroke-width:0.24px" text-anchor="middle" >18</text>
<text class="cn2" x="1368.0" y="1585.2" font-size="25.5" style="stroke-width:0.24px" text-anchor="middle" >8</text>
<text class="cn2" x="1304.0" y="1619.0" font-size="22.5" style="stroke-width:0.24px" textLength="100.3" lengthAdjust="spacingAndGlyphs" >E=554.0</text>
<text class="cn2" x="1304.0" y="1642.4" font-size="22.5" style="stroke-width:0.24px" textLength="100.3" lengthAdjust="spacingAndGlyphs" >F=554.8</text>
</g>
<g id="p06_detail">
<line x1="642.0" y1="820.7" x2="654.9" y2="796.1" stroke="#000" stroke-width="1.7"/>
<line x1="660.2" y1="820.7" x2="673.0" y2="796.1" stroke="#000" stroke-width="1.7"/>
<line x1="842.0" y1="820.7" x2="855.9" y2="796.1" stroke="#000" stroke-width="1.7"/>
<line x1="860.2" y1="820.7" x2="873.0" y2="796.1" stroke="#000" stroke-width="1.7"/>
<line x1="1041.5" y1="820.6" x2="1055.4" y2="796.0" stroke="#000" stroke-width="1.7"/>
<line x1="1058.6" y1="820.6" x2="1072.5" y2="796.0" stroke="#000" stroke-width="1.7"/>
<line x1="595.0" y1="841.0" x2="619.6" y2="853.9" stroke="#000" stroke-width="1.7"/>
<line x1="595.0" y1="858.2" x2="619.6" y2="871.0" stroke="#000" stroke-width="1.7"/>
<line x1="594.2" y1="971.3" x2="619.9" y2="984.2" stroke="#000" stroke-width="1.7"/>
<line x1="594.2" y1="988.0" x2="619.9" y2="1001.3" stroke="#000" stroke-width="1.7"/>
<line x1="622.0" y1="1040.9" x2="633.8" y2="1017.3" stroke="#000" stroke-width="1.7"/>
<line x1="638.0" y1="1040.9" x2="649.8" y2="1017.3" stroke="#000" stroke-width="1.7"/>
<line x1="1093.9" y1="841.0" x2="1120.6" y2="854.9" stroke="#000" stroke-width="1.7"/>
<line x1="1093.9" y1="858.1" x2="1120.6" y2="872.0" stroke="#000" stroke-width="1.7"/>
<line x1="1093.9" y1="942.6" x2="1120.6" y2="957.5" stroke="#000" stroke-width="1.7"/>
<line x1="1093.9" y1="958.6" x2="1120.6" y2="973.6" stroke="#000" stroke-width="1.7"/>
<line x1="1065.0" y1="1042.0" x2="1078.9" y2="1016.4" stroke="#000" stroke-width="1.7"/>
<line x1="1080.0" y1="1042.0" x2="1093.9" y2="1016.4" stroke="#000" stroke-width="1.7"/>
<line x1="638.8" y1="929.8" x2="678.8" y2="875.3" stroke="#000" stroke-width="2.1"/>
<line x1="678.8" y1="875.3" x2="655.3" y2="888.1" stroke="#000" stroke-width="2.1"/>
<line x1="678.8" y1="875.3" x2="674.8" y2="902.0" stroke="#000" stroke-width="2.1"/>
<line x1="920.2" y1="930.8" x2="961.9" y2="876.7" stroke="#000" stroke-width="2.1"/>
<line x1="961.9" y1="876.7" x2="937.3" y2="888.7" stroke="#000" stroke-width="2.1"/>
<line x1="961.9" y1="876.7" x2="957.0" y2="903.6" stroke="#000" stroke-width="2.1"/>
<line x1="963.0" y1="1010.6" x2="963.0" y2="941.5" stroke="#000" stroke-width="2.1"/>
<line x1="963.0" y1="941.5" x2="951.2" y2="966.1" stroke="#000" stroke-width="2.1"/>
<line x1="963.0" y1="941.5" x2="975.2" y2="966.1" stroke="#000" stroke-width="2.1"/>
<line x1="1091.8" y1="923.3" x2="1091.8" y2="854.9" stroke="#000" stroke-width="2.1"/>
<line x1="1091.8" y1="854.9" x2="1080.0" y2="879.5" stroke="#000" stroke-width="2.1"/>
<line x1="1091.8" y1="854.9" x2="1103.5" y2="879.5" stroke="#000" stroke-width="2.1"/>
<line x1="1091.8" y1="1083.7" x2="1091.8" y2="1014.9" stroke="#000" stroke-width="2.1"/>
<line x1="1091.8" y1="1014.9" x2="1080.0" y2="1039.9" stroke="#000" stroke-width="2.1"/>
<line x1="1091.8" y1="1014.9" x2="1103.5" y2="1039.9" stroke="#000" stroke-width="2.1"/>
<line x1="1091.5" y1="1247.4" x2="1091.5" y2="1179.2" stroke="#000" stroke-width="2.1"/>
<line x1="1091.5" y1="1179.2" x2="1079.1" y2="1204.3" stroke="#000" stroke-width="2.1"/>
<line x1="1091.5" y1="1179.2" x2="1104.2" y2="1204.3" stroke="#000" stroke-width="2.1"/>
<line x1="1091.5" y1="1387.7" x2="1091.5" y2="1318.6" stroke="#000" stroke-width="2.1"/>
<line x1="1091.5" y1="1318.6" x2="1079.1" y2="1343.7" stroke="#000" stroke-width="2.1"/>
<line x1="1091.5" y1="1318.6" x2="1104.2" y2="1343.7" stroke="#000" stroke-width="2.1"/>
<line x1="710.5" y1="1720.6" x2="669.4" y2="1776.2" stroke="#000" stroke-width="2.1"/>
<line x1="669.4" y1="1776.2" x2="674.1" y2="1748.8" stroke="#000" stroke-width="2.1"/>
<line x1="669.4" y1="1776.2" x2="693.4" y2="1763.4" stroke="#000" stroke-width="2.1"/>
<line x1="782.1" y1="1820.9" x2="741.5" y2="1876.1" stroke="#000" stroke-width="2.1"/>
<line x1="741.5" y1="1876.1" x2="745.8" y2="1849.4" stroke="#000" stroke-width="2.1"/>
<line x1="741.5" y1="1876.1" x2="765.0" y2="1863.9" stroke="#000" stroke-width="2.1"/>
<line x1="1098.2" y1="1798.3" x2="1065.8" y2="1840.8" stroke="#000" stroke-width="2.1"/>
<line x1="1065.8" y1="1840.8" x2="1070.1" y2="1819.6" stroke="#000" stroke-width="2.1"/>
<line x1="1065.8" y1="1840.8" x2="1085.0" y2="1831.2" stroke="#000" stroke-width="2.1"/>
<line x1="961.5" y1="1534.8" x2="961.5" y2="1603.2" stroke="#000" stroke-width="1.3"/>
<line x1="961.5" y1="1603.2" x2="949.1" y2="1579.7" stroke="#000" stroke-width="1.3"/>
<line x1="961.5" y1="1603.2" x2="973.7" y2="1579.7" stroke="#000" stroke-width="1.3"/>
<line x1="950.0" y1="1925.5" x2="950.0" y2="1993.7" stroke="#000" stroke-width="2.1"/>
<line x1="950.0" y1="1993.7" x2="939.0" y2="1969.6" stroke="#000" stroke-width="2.1"/>
<line x1="950.0" y1="1993.7" x2="961.1" y2="1969.6" stroke="#000" stroke-width="2.1"/>
<line x1="764.7" y1="1006.6" x2="764.7" y2="972.4" stroke="#000" stroke-width="1.2"/>
<line x1="764.7" y1="972.4" x2="757.9" y2="984.2" stroke="#000" stroke-width="1.2"/>
<line x1="764.7" y1="972.4" x2="771.1" y2="984.2" stroke="#000" stroke-width="1.2"/>
<line x1="839.1" y1="1643.9" x2="839.1" y2="1677.6" stroke="#000" stroke-width="1.2"/>
<line x1="839.1" y1="1677.6" x2="833.8" y2="1666.3" stroke="#000" stroke-width="1.2"/>
<line x1="839.1" y1="1677.6" x2="845.6" y2="1666.3" stroke="#000" stroke-width="1.2"/>
<text class="c" x="759.0" y="993.8" font-size="14" style="stroke-width:0.12px" textLength="13.8" lengthAdjust="spacingAndGlyphs" transform="rotate(-90.0 759.0 993.8)">2”</text>
<text class="c" x="956.6" y="1569.0" font-size="15" style="stroke-width:0.12px" textLength="15.0" lengthAdjust="spacingAndGlyphs" transform="rotate(-90.0 956.6 1569.0)">2”</text>
<text class="c" x="833.8" y="1660.0" font-size="14" style="stroke-width:0.12px" textLength="13.0" lengthAdjust="spacingAndGlyphs" transform="rotate(-90.0 833.8 1660.0)">2”</text>
<line x1="626.0" y1="1089.0" x2="626.0" y2="1141.4" stroke="#000" stroke-width="1.6"/>
<path d="M626.0,1050.5 L628.8,1067.8 L633.0,1089.0 L619.0,1089.0 L623.2,1067.8 Z" fill="#000"/>
<text class="fl" x="651.0" y="1132.0" font-size="24" textLength="34.5" lengthAdjust="spacingAndGlyphs" transform="rotate(-90.0 651.0 1132.0)">FILL</text>
<line x1="634.0" y1="1128.0" x2="634.0" y2="1094.5" stroke="#000" stroke-width="2"/>
<line x1="626.0" y1="1287.5" x2="626.0" y2="1340.7" stroke="#000" stroke-width="1.6"/>
<path d="M626.0,1248.4 L628.8,1266.0 L633.0,1287.5 L619.0,1287.5 L623.2,1266.0 Z" fill="#000"/>
<text class="fl" x="651.0" y="1328.6" font-size="24" textLength="36.1" lengthAdjust="spacingAndGlyphs" transform="rotate(-90.0 651.0 1328.6)">FILL</text>
<line x1="634.0" y1="1324.6" x2="634.0" y2="1289.5" stroke="#000" stroke-width="2"/>
<line x1="616.5" y1="1307.6" x2="624.5" y2="1307.6" stroke="#000" stroke-width="1"/>
<line x1="620.6" y1="1303.6" x2="620.6" y2="1311.6" stroke="#000" stroke-width="1"/>
<line x1="626.0" y1="1481.3" x2="626.0" y2="1533.6" stroke="#000" stroke-width="1.6"/>
<path d="M626.0,1442.1 L628.8,1459.7 L633.0,1481.3 L619.0,1481.3 L623.2,1459.7 Z" fill="#000"/>
<line x1="626.0" y1="1620.0" x2="626.0" y2="1674.8" stroke="#000" stroke-width="1.6"/>
<path d="M626.0,1580.4 L628.8,1598.2 L633.0,1620.0 L619.0,1620.0 L623.2,1598.2 Z" fill="#000"/>
<text class="fl" x="654.1" y="1640.7" font-size="24" textLength="35.2" lengthAdjust="spacingAndGlyphs" transform="rotate(-90.0 654.1 1640.7)">FILL</text>
<line x1="637.1" y1="1636.7" x2="637.1" y2="1602.5" stroke="#000" stroke-width="2"/>
<line x1="1092.4" y1="1557.2" x2="1092.4" y2="1609.6" stroke="#000" stroke-width="1.6"/>
<path d="M1092.4,1517.2 L1095.2,1535.2 L1099.4,1557.2 L1085.4,1557.2 L1089.6,1535.2 Z" fill="#000"/>
<text class="fl" x="1085.3" y="1604.3" font-size="24" textLength="35.3" lengthAdjust="spacingAndGlyphs" transform="rotate(-90.0 1085.3 1604.3)">FILL</text>
<line x1="1068.3" y1="1600.3" x2="1068.3" y2="1566.0" stroke="#000" stroke-width="2"/>
<line x1="626.6" y1="1793.7" x2="626.6" y2="1741.3" stroke="#000" stroke-width="1.6"/>
<path d="M626.6,1832.9 L629.4,1815.3 L633.6,1793.7 L619.6,1793.7 L623.8,1815.3 Z" fill="#000"/>
<text class="fl" x="654.3" y="1783.0" font-size="24" textLength="36.3" lengthAdjust="spacingAndGlyphs" transform="rotate(-90.0 654.3 1783.0)">FILL</text>
<line x1="637.3" y1="1779.0" x2="637.3" y2="1743.7" stroke="#000" stroke-width="2"/>
<circle cx="626.2" cy="1008.2" r="4.3" stroke="#000" stroke-width="0" fill="#000"/>
<circle cx="626.2" cy="1208.3" r="4.3" stroke="#000" stroke-width="0" fill="#000"/>
<circle cx="625.7" cy="1407.7" r="4.3" stroke="#000" stroke-width="0" fill="#000"/>
<circle cx="625.7" cy="1557.6" r="4.3" stroke="#000" stroke-width="0" fill="#000"/>
<circle cx="625.7" cy="1708.7" r="4.3" stroke="#000" stroke-width="0" fill="#000"/>
<circle cx="622.6" cy="1893.9" r="4.3" stroke="#000" stroke-width="0" fill="#000"/>
<circle cx="872.7" cy="1022.2" r="4.3" stroke="#000" stroke-width="0" fill="#000"/>
<circle cx="1040.4" cy="1454.5" r="4.3" stroke="#000" stroke-width="0" fill="#000"/>
<circle cx="844.5" cy="1593.6" r="4.3" stroke="#000" stroke-width="0" fill="#000"/>
<circle cx="952.7" cy="1673.8" r="4.3" stroke="#000" stroke-width="0" fill="#000"/>
<circle cx="1093.5" cy="1709.7" r="4.3" stroke="#000" stroke-width="0" fill="#000"/>
<rect x="514.0" y="981.5" width="61.2" height="25.1" stroke="#000" stroke-width="1.1" fill="#fff"/>
<text class="c" x="524.0" y="1001.3" font-size="16.5" style="stroke-width:0.22px" textLength="40.8" lengthAdjust="spacingAndGlyphs" >553.2</text>
<path d="M575.2,993.9 C595,993 604,1000 626,1008.3" stroke="#000" stroke-width="1" fill="none" />
<rect x="533.9" y="1188.7" width="62.6" height="24.6" stroke="#000" stroke-width="1.1" fill="#fff"/>
<text class="c" x="544.4" y="1207.3" font-size="16.5" style="stroke-width:0.22px" textLength="40.5" lengthAdjust="spacingAndGlyphs" >553.4</text>
<path d="M596.5,1200.5 L604.5,1200.7 L626.2,1208.3" stroke="#000" stroke-width="1" fill="none" stroke-linejoin="miter"/>
<rect x="533.9" y="1388.0" width="61.6" height="24.5" stroke="#000" stroke-width="1.1" fill="#fff"/>
<text class="c" x="544.4" y="1407.0" font-size="16.5" style="stroke-width:0.22px" textLength="40.0" lengthAdjust="spacingAndGlyphs" >553.6</text>
<path d="M595.5,1400.0 L604.0,1400.2 L625.7,1407.7" stroke="#000" stroke-width="1" fill="none" stroke-linejoin="miter"/>
<rect x="533.9" y="1538.4" width="61.6" height="24.0" stroke="#000" stroke-width="1.1" fill="#fff"/>
<text class="c" x="544.4" y="1557.0" font-size="16.5" style="stroke-width:0.22px" textLength="39.5" lengthAdjust="spacingAndGlyphs" >553.8</text>
<path d="M595.5,1550.0 L604.0,1550.2 L625.7,1557.6" stroke="#000" stroke-width="1" fill="none" stroke-linejoin="miter"/>
<rect x="534.1" y="1688.2" width="61.8" height="25.6" stroke="#000" stroke-width="1.1" fill="#fff"/>
<text class="c" x="543.8" y="1708.8" font-size="16.5" style="stroke-width:0.22px" textLength="40.3" lengthAdjust="spacingAndGlyphs" >554.0</text>
<path d="M595.9,1700.5 L604.0,1701.0 L625.7,1708.7" stroke="#000" stroke-width="1" fill="none" stroke-linejoin="miter"/>
<rect x="517.9" y="1861.5" width="61.8" height="25.3" stroke="#000" stroke-width="1.1" fill="#fff"/>
<text class="c" x="527.6" y="1880.6" font-size="16.5" style="stroke-width:0.22px" textLength="39.4" lengthAdjust="spacingAndGlyphs" >553.8</text>
<path d="M579.7,1874.1 C600,1873 612,1882 622.6,1893.9" stroke="#000" stroke-width="1" fill="none" />
<rect x="778.2" y="1054.3" width="61.4" height="25.1" stroke="#000" stroke-width="1.1" fill="#fff"/>
<text class="c" x="786.0" y="1074.0" font-size="16.5" style="stroke-width:0.22px" textLength="46.5" lengthAdjust="spacingAndGlyphs" >555.21</text>
<path d="M839.6,1067 C858,1066 862,1040 872.7,1022.2" stroke="#000" stroke-width="1" fill="none" />
<rect x="917.4" y="1471.7" width="61.2" height="24.6" stroke="#000" stroke-width="1.1" fill="#fff"/>
<text class="c" x="925.5" y="1491.0" font-size="16.5" style="stroke-width:0.22px" textLength="46.5" lengthAdjust="spacingAndGlyphs" >555.21</text>
<path d="M978.6,1484 C1005,1486 1015,1468 1040.4,1454.5" stroke="#000" stroke-width="1" fill="none" />
<rect x="875.3" y="1551.4" width="61.4" height="25.1" stroke="#000" stroke-width="1.1" fill="#fff"/>
<text class="c" x="883.5" y="1571.2" font-size="16.5" style="stroke-width:0.22px" textLength="46.5" lengthAdjust="spacingAndGlyphs" >555.21</text>
<path d="M875.3,1563.5 C860,1563 855,1578 845,1592" stroke="#000" stroke-width="1" fill="none" />
<rect x="921.3" y="1605.3" width="61.4" height="25.3" stroke="#000" stroke-width="1.1" fill="#fff"/>
<text class="c" x="929.5" y="1625.3" font-size="16.5" style="stroke-width:0.22px" textLength="46.5" lengthAdjust="spacingAndGlyphs" >554.92</text>
<line x1="952.7" y1="1630.6" x2="952.7" y2="1673.8" stroke="#000" stroke-width="1"/>
<rect x="1127.7" y="1676.0" width="61.9" height="24.5" stroke="#000" stroke-width="1.1" fill="#fff"/>
<text class="c" x="1138.0" y="1695.5" font-size="16.5" style="stroke-width:0.22px" textLength="40.0" lengthAdjust="spacingAndGlyphs" >554.2</text>
<path d="M1127.7,1688 C1112,1688 1108,1700 1093.5,1709.7" stroke="#000" stroke-width="1" fill="none" />
<rect x="777.2" y="1928.0" width="61.6" height="25.5" stroke="#000" stroke-width="1.1" fill="#fff"/>
<text class="c" x="785.0" y="1948.2" font-size="16.5" style="stroke-width:0.22px" textLength="47.0" lengthAdjust="spacingAndGlyphs" >553.80</text>
<path d="M838.8,1941 C858,1942 860,1925 868,1909" stroke="#000" stroke-width="1" fill="none" />
<rect x="960.3" y="1938.7" width="59.8" height="25.3" stroke="#000" stroke-width="1.1" fill="#fff"/>
<text class="c" x="965.0" y="1958.8" font-size="16.5" style="stroke-width:0.22px" textLength="49.5" lengthAdjust="spacingAndGlyphs" >553.85</text>
<path d="M1020.1,1951 C1036,1951 1035,1925 1037.5,1910" stroke="#000" stroke-width="1" fill="none" />
<path d="M807.4,1019.8 L810.9,1021.2 L814.6,1025.9 L815.0,1033.8 L812.3,1037.6 L807.6,1039.9 L801.4,1039.9 L801.4,1032.4 L807.4,1027.3 Z" fill="#000"/>
<line x1="802.9" y1="1036.5" x2="806.4" y2="1039.5" stroke="#fff" stroke-width="0.8"/>
<line x1="806.9" y1="1033.0" x2="810.9" y2="1037.0" stroke="#fff" stroke-width="0.8"/>
<line x1="808.4" y1="1026.0" x2="810.4" y2="1028.0" stroke="#fff" stroke-width="0.8"/>
<line x1="807.4" y1="1010.0" x2="807.4" y2="1021.0" stroke="#000" stroke-width="1.2"/>
<line x1="801.4" y1="1032.0" x2="801.4" y2="1048.8" stroke="#000" stroke-width="1.2"/>
<path d="M883.9,1437.0 L889.0,1436.1 L894.6,1439.8 L897.0,1444.5 L896.5,1450.1 L892.7,1454.8 L889.9,1456.2 L889.9,1449.2 L883.9,1444.5 Z" fill="#000"/>
<line x1="884.9" y1="1443.0" x2="888.9" y2="1438.5" stroke="#fff" stroke-width="0.8"/>
<line x1="890.4" y1="1444.0" x2="893.9" y2="1440.0" stroke="#fff" stroke-width="0.8"/>
<line x1="890.9" y1="1452.0" x2="894.4" y2="1448.0" stroke="#fff" stroke-width="0.8"/>
<line x1="883.9" y1="1426.7" x2="883.9" y2="1444.5" stroke="#000" stroke-width="1.2"/>
<line x1="889.9" y1="1449.0" x2="889.9" y2="1465.0" stroke="#000" stroke-width="1.2"/>
<path d="M828.8,1564.3 L833.9,1563.4 L839.5,1567.1 L841.9,1571.8 L841.4,1577.4 L837.6,1582.1 L834.8,1583.5 L834.8,1576.5 L828.8,1571.8 Z" fill="#000"/>
<line x1="829.8" y1="1570.3" x2="833.8" y2="1565.8" stroke="#fff" stroke-width="0.8"/>
<line x1="835.3" y1="1571.3" x2="838.8" y2="1567.3" stroke="#fff" stroke-width="0.8"/>
<line x1="835.8" y1="1579.3" x2="839.3" y2="1575.3" stroke="#fff" stroke-width="0.8"/>
<line x1="828.8" y1="1554.0" x2="828.8" y2="1571.8" stroke="#000" stroke-width="1.2"/>
<line x1="834.8" y1="1576.3" x2="834.8" y2="1592.3" stroke="#000" stroke-width="1.2"/>
<path d="M831.9,1694.3 L837.0,1693.4 L842.6,1697.1 L845.0,1701.8 L844.5,1707.4 L840.7,1712.1 L837.9,1713.5 L837.9,1706.5 L831.9,1701.8 Z" fill="#000"/>
<line x1="832.9" y1="1700.3" x2="836.9" y2="1695.8" stroke="#fff" stroke-width="0.8"/>
<line x1="838.4" y1="1701.3" x2="841.9" y2="1697.3" stroke="#fff" stroke-width="0.8"/>
<line x1="838.9" y1="1709.3" x2="842.4" y2="1705.3" stroke="#fff" stroke-width="0.8"/>
<line x1="831.9" y1="1684.5" x2="831.9" y2="1701.8" stroke="#000" stroke-width="1.2"/>
<line x1="837.9" y1="1706.3" x2="837.9" y2="1722.3" stroke="#000" stroke-width="1.2"/>
<text class="c" x="803.8" y="1026.0" font-size="17" style="stroke-width:0.22px" textLength="26.0" lengthAdjust="spacingAndGlyphs" transform="rotate(-90.0 803.8 1026.0)">3½”</text>
<text class="c" x="882.0" y="1483.0" font-size="17" style="stroke-width:0.22px" textLength="27.0" lengthAdjust="spacingAndGlyphs" transform="rotate(-90.0 882.0 1483.0)">3½”</text>
<text class="c" x="831.6" y="1603.0" font-size="17" style="stroke-width:0.22px" textLength="26.5" lengthAdjust="spacingAndGlyphs" transform="rotate(-90.0 831.6 1603.0)">3½”</text>
<text class="c" x="834.0" y="1733.0" font-size="17" style="stroke-width:0.22px" textLength="27.0" lengthAdjust="spacingAndGlyphs" transform="rotate(-90.0 834.0 1733.0)">3½”</text>
<line x1="424.2" y1="809.0" x2="424.2" y2="897.0" stroke="#000" stroke-width="1"/>
<line x1="424.2" y1="937.0" x2="424.2" y2="1458.0" stroke="#000" stroke-width="1"/>
<line x1="424.2" y1="1500.5" x2="424.2" y2="1763.0" stroke="#000" stroke-width="1"/>
<line x1="424.2" y1="1805.0" x2="424.2" y2="1908.0" stroke="#000" stroke-width="1"/>
<path d="M424.2,809.0 L427.4,828.0 L420.9,828.0 Z" fill="#000"/>
<path d="M424.2,1029.3 L420.9,1010.3 L427.4,1010.3 Z" fill="#000"/>
<path d="M424.2,1029.3 L427.4,1048.3 L420.9,1048.3 Z" fill="#000"/>
<path d="M424.2,1684.5 L420.9,1665.5 L427.4,1665.5 Z" fill="#000"/>
<path d="M424.2,1684.5 L427.4,1703.5 L420.9,1703.5 Z" fill="#000"/>
<path d="M424.2,1908.5 L420.9,1889.5 L427.4,1889.5 Z" fill="#000"/>
<text class="c" x="431.5" y="937.0" font-size="19.5" style="stroke-width:0.22px" textLength="40.0" lengthAdjust="spacingAndGlyphs" transform="rotate(-90.0 431.5 937.0)">22.1’</text>
<text class="c" x="431.5" y="1500.3" font-size="19.5" style="stroke-width:0.22px" textLength="42.1" lengthAdjust="spacingAndGlyphs" transform="rotate(-90.0 431.5 1500.3)">65.5’</text>
<text class="c" x="431.5" y="1805.0" font-size="19.5" style="stroke-width:0.22px" textLength="41.2" lengthAdjust="spacingAndGlyphs" transform="rotate(-90.0 431.5 1805.0)">22.4’</text>
<line x1="1255.5" y1="808.0" x2="1255.5" y2="876.0" stroke="#000" stroke-width="1"/>
<line x1="1255.5" y1="917.0" x2="1255.5" y2="1466.0" stroke="#000" stroke-width="1"/>
<line x1="1255.5" y1="1508.0" x2="1255.5" y2="1769.0" stroke="#000" stroke-width="1"/>
<line x1="1255.5" y1="1810.5" x2="1255.5" y2="1908.0" stroke="#000" stroke-width="1"/>
<path d="M1255.5,808.5 L1258.8,827.5 L1252.2,827.5 Z" fill="#000"/>
<path d="M1255.5,1029.3 L1252.2,1010.3 L1258.8,1010.3 Z" fill="#000"/>
<path d="M1255.5,1029.3 L1258.8,1048.3 L1252.2,1048.3 Z" fill="#000"/>
<path d="M1255.5,1673.8 L1252.2,1654.8 L1258.8,1654.8 Z" fill="#000"/>
<path d="M1255.5,1673.8 L1258.8,1692.8 L1252.2,1692.8 Z" fill="#000"/>
<path d="M1255.5,1908.0 L1252.2,1889.0 L1258.8,1889.0 Z" fill="#000"/>
<text class="c" x="1262.8" y="916.8" font-size="19.5" style="stroke-width:0.22px" textLength="40.1" lengthAdjust="spacingAndGlyphs" transform="rotate(-90.0 1262.8 916.8)">22.1’</text>
<text class="c" x="1262.8" y="1508.0" font-size="19.5" style="stroke-width:0.22px" textLength="41.8" lengthAdjust="spacingAndGlyphs" transform="rotate(-90.0 1262.8 1508.0)">64.5’</text>
<text class="c" x="1262.8" y="1810.3" font-size="19.5" style="stroke-width:0.22px" textLength="40.7" lengthAdjust="spacingAndGlyphs" transform="rotate(-90.0 1262.8 1810.3)">23.4’</text>
<line x1="592.0" y1="1044.0" x2="660.0" y2="1044.0" stroke="#000" stroke-width="1"/>
<path d="M604.0,1044.0 L619.0,1041.5 L619.0,1046.5 Z" fill="#000"/>
<path d="M660.3,1044.0 L645.3,1046.5 L645.3,1041.5 Z" fill="#000"/>
<text class="c" x="556.8" y="1050.0" font-size="18.5" style="stroke-width:0.22px" textLength="32.4" lengthAdjust="spacingAndGlyphs" >5.5’</text>
<line x1="1012.2" y1="1053.4" x2="1050.0" y2="1053.4" stroke="#000" stroke-width="1"/>
<path d="M1050.0,1053.4 L1034.0,1055.9 L1034.0,1050.9 Z" fill="#000"/>
<path d="M1112.1,1053.4 L1128.1,1050.9 L1128.1,1055.9 Z" fill="#000"/>
<line x1="1112.0" y1="1053.4" x2="1147.4" y2="1053.4" stroke="#000" stroke-width="1"/>
<text class="c" x="1068.9" y="1059.1" font-size="18" style="stroke-width:0.22px" textLength="31.4" lengthAdjust="spacingAndGlyphs" >5.5’</text>
<line x1="567.0" y1="1675.1" x2="604.0" y2="1675.1" stroke="#000" stroke-width="1"/>
<path d="M604.2,1675.1 L587.2,1677.6 L587.2,1672.6 Z" fill="#000"/>
<path d="M659.7,1675.1 L676.7,1672.6 L676.7,1677.6 Z" fill="#000"/>
<line x1="659.7" y1="1675.1" x2="699.0" y2="1675.1" stroke="#000" stroke-width="1"/>
<text class="c" x="617.6" y="1680.8" font-size="17" style="stroke-width:0.22px" textLength="32.0" lengthAdjust="spacingAndGlyphs" >5.0’</text>
<line x1="1017.5" y1="1642.4" x2="1050.0" y2="1642.4" stroke="#000" stroke-width="1"/>
<path d="M1050.5,1642.4 L1036.5,1644.9 L1036.5,1639.9 Z" fill="#000"/>
<path d="M1112.1,1642.4 L1126.6,1639.9 L1126.6,1644.9 Z" fill="#000"/>
<line x1="1112.0" y1="1642.4" x2="1148.0" y2="1642.4" stroke="#000" stroke-width="1"/>
<text class="c" x="1066.7" y="1648.1" font-size="17" style="stroke-width:0.22px" textLength="31.1" lengthAdjust="spacingAndGlyphs" >5.0’</text>
<line x1="656.0" y1="1510.6" x2="828.0" y2="1510.6" stroke="#000" stroke-width="1"/>
<line x1="905.2" y1="1510.6" x2="1057.0" y2="1510.6" stroke="#000" stroke-width="1"/>
<line x1="652.0" y1="1515.5" x2="659.5" y2="1507.0" stroke="#000" stroke-width="1.8"/>
<line x1="1053.9" y1="1514.4" x2="1062.5" y2="1504.8" stroke="#000" stroke-width="1.8"/>
<text class="c" x="834.4" y="1517.5" font-size="19" style="stroke-width:0.22px" textLength="64.6" lengthAdjust="spacingAndGlyphs" >39’–11”</text>
<line x1="1026.8" y1="1029.0" x2="1026.8" y2="1347.0" stroke="#000" stroke-width="1"/>
<line x1="1026.8" y1="1436.0" x2="1026.8" y2="1703.7" stroke="#000" stroke-width="1"/>
<line x1="1022.3" y1="1024.5" x2="1031.8" y2="1035.5" stroke="#000" stroke-width="1.8"/>
<line x1="1020.7" y1="1698.4" x2="1031.4" y2="1709.1" stroke="#000" stroke-width="1.8"/>
<text class="c" x="1034.5" y="1432.0" font-size="19" style="stroke-width:0.22px" textLength="52.0" lengthAdjust="spacingAndGlyphs" transform="rotate(-90.0 1034.5 1432.0)">67’–4</text>
<text class="c" x="1028.5" y="1377.0" font-size="13" style="stroke-width:0.12px" textLength="11.0" lengthAdjust="spacingAndGlyphs" transform="rotate(-90.0 1028.5 1377.0)">1</text>
<text class="c" x="1041.0" y="1375.0" font-size="13" style="stroke-width:0.12px" textLength="11.0" lengthAdjust="spacingAndGlyphs" transform="rotate(-90.0 1041.0 1375.0)">2</text>
<line x1="1031.0" y1="1362.0" x2="1031.0" y2="1379.0" stroke="#000" stroke-width="1"/>
<text class="c" x="1027.0" y="1361.0" font-size="15" style="stroke-width:0.12px" textLength="8.0" lengthAdjust="spacingAndGlyphs" transform="rotate(-90.0 1027.0 1361.0)">”</text>
<line x1="862.0" y1="1703.7" x2="1026.8" y2="1703.7" stroke="#000" stroke-width="1"/>
<line x1="880.5" y1="1694.0" x2="880.5" y2="1819.0" stroke="#000" stroke-width="1"/>
<line x1="880.5" y1="1861.5" x2="880.5" y2="1963.8" stroke="#000" stroke-width="1"/>
<path d="M880.5,1677.0 L883.8,1694.0 L877.2,1694.0 Z" fill="#000"/>
<path d="M880.5,1963.8 L877.2,1944.8 L883.8,1944.8 Z" fill="#000"/>
<line x1="876.5" y1="1913.5" x2="884.5" y2="1913.5" stroke="#000" stroke-width="1"/>
<text class="c" x="888.0" y="1861.1" font-size="19" style="stroke-width:0.22px" textLength="41.7" lengthAdjust="spacingAndGlyphs" transform="rotate(-90.0 888.0 1861.1)">29.0’</text>
</g>
<g id="p06b_labels">
<text class="c" x="572.5" y="861.9" font-size="14.5" style="stroke-width:0.12px" textLength="51.0" lengthAdjust="spacingAndGlyphs" transform="rotate(-58.5 572.5 861.9)">553.16</text>
<text class="c" x="619.3" y="918.7" font-size="14.5" style="stroke-width:0.12px" textLength="49.5" lengthAdjust="spacingAndGlyphs" transform="rotate(-57.4 619.3 918.7)">553.13</text>
<text class="c" x="1073.6" y="864.5" font-size="14.5" style="stroke-width:0.12px" textLength="46.9" lengthAdjust="spacingAndGlyphs" transform="rotate(-55.3 1073.6 864.5)">552.75</text>
<text class="c" x="1118.5" y="905.1" font-size="14.5" style="stroke-width:0.12px" textLength="48.1" lengthAdjust="spacingAndGlyphs" transform="rotate(-57.7 1118.5 905.1)">552.80</text>
<text class="c" x="846.0" y="861.0" font-size="14.5" style="stroke-width:0.12px" textLength="49.5" lengthAdjust="spacingAndGlyphs" transform="rotate(-57.0 846.0 861.0)">552.83</text>
<text class="c" x="876.5" y="910.5" font-size="14.5" style="stroke-width:0.12px" textLength="47.0" lengthAdjust="spacingAndGlyphs" transform="rotate(-51.9 876.5 910.5)">553.02</text>
<line x1="861.0" y1="917.0" x2="872.0" y2="925.0" stroke="#000" stroke-width="1"/>
<line x1="870.0" y1="915.5" x2="863.5" y2="926.5" stroke="#000" stroke-width="1"/>
<text class="c" x="895.0" y="1902.6" font-size="14.5" style="stroke-width:0.12px" textLength="48.5" lengthAdjust="spacingAndGlyphs" transform="rotate(-60.3 895.0 1902.6)">553.70</text>
<text class="c" x="579.7" y="1969.8" font-size="14.5" style="stroke-width:0.12px" textLength="48.7" lengthAdjust="spacingAndGlyphs" transform="rotate(-57.1 579.7 1969.8)">553.48</text>
<text class="c" x="575.3" y="1743.2" font-size="14.5" style="stroke-width:0.12px" textLength="48.2" lengthAdjust="spacingAndGlyphs" transform="rotate(-58.8 575.3 1743.2)">553.57</text>
<text class="c" x="599.5" y="1334.2" font-size="16.5" style="stroke-width:0.22px" textLength="49.7" lengthAdjust="spacingAndGlyphs" transform="rotate(-90.0 599.5 1334.2)">553.42</text>
<text class="c" x="1130.2" y="1322.6" font-size="14.5" style="stroke-width:0.12px" textLength="48.1" lengthAdjust="spacingAndGlyphs" transform="rotate(-90.0 1130.2 1322.6)">553.41</text>
<line x1="1104.0" y1="1314.6" x2="1113.0" y2="1314.6" stroke="#000" stroke-width="1"/>
<text class="c" x="884.1" y="1722.0" font-size="14" style="stroke-width:0.12px" textLength="48.9" lengthAdjust="spacingAndGlyphs" >553.81</text>
<text class="c" x="1050.5" y="1729.3" font-size="14" style="stroke-width:0.12px" textLength="50.5" lengthAdjust="spacingAndGlyphs" >553.98</text>
<text class="c" x="1082.8" y="1934.7" font-size="13.5" style="stroke-width:0.12px" textLength="51.8" lengthAdjust="spacingAndGlyphs" >553.57</text>
<text class="c" x="558.0" y="2054.0" font-size="14" style="stroke-width:0.12px" textLength="50.1" lengthAdjust="spacingAndGlyphs" transform="rotate(-54.8 558.0 2054.0)">T.O.C.=</text>
<text class="c" x="578.5" y="2058.8" font-size="14" style="stroke-width:0.12px" textLength="48.7" lengthAdjust="spacingAndGlyphs" transform="rotate(-57.1 578.5 2058.8)">553.18</text>
<text class="c" x="614.6" y="2055.2" font-size="14" style="stroke-width:0.12px" textLength="41.0" lengthAdjust="spacingAndGlyphs" transform="rotate(-58.2 614.6 2055.2)">GUT.=</text>
<text class="c" x="625.4" y="2066.0" font-size="14" style="stroke-width:0.12px" textLength="48.7" lengthAdjust="spacingAndGlyphs" transform="rotate(-57.1 625.4 2066.0)">553.03</text>
<text class="c" x="816.7" y="2061.2" font-size="14" style="stroke-width:0.12px" textLength="50.1" lengthAdjust="spacingAndGlyphs" transform="rotate(-54.8 816.7 2061.2)">T.O.C.=</text>
<text class="c" x="834.8" y="2063.6" font-size="14" style="stroke-width:0.12px" textLength="49.3" lengthAdjust="spacingAndGlyphs" transform="rotate(-56.0 834.8 2063.6)">553.49</text>
<text class="c" x="850.4" y="2063.6" font-size="14" style="stroke-width:0.12px" textLength="42.8" lengthAdjust="spacingAndGlyphs" transform="rotate(-57.6 850.4 2063.6)">GUT.=</text>
<text class="c" x="868.4" y="2067.2" font-size="14" style="stroke-width:0.12px" textLength="50.1" lengthAdjust="spacingAndGlyphs" transform="rotate(-57.1 868.4 2067.2)">553.06</text>
<text class="c" x="1071.8" y="2062.7" font-size="14" style="stroke-width:0.12px" textLength="52.8" lengthAdjust="spacingAndGlyphs" transform="rotate(-55.4 1071.8 2062.7)">T.O.C.=</text>
<text class="c" x="1090.1" y="2064.4" font-size="14" style="stroke-width:0.12px" textLength="55.3" lengthAdjust="spacingAndGlyphs" transform="rotate(-54.9 1090.1 2064.4)">553.63</text>
<text class="c" x="1105.2" y="2064.4" font-size="14" style="stroke-width:0.12px" textLength="43.6" lengthAdjust="spacingAndGlyphs" transform="rotate(-57.5 1105.2 2064.4)">GUT.=</text>
<text class="c" x="1123.6" y="2064.4" font-size="14" style="stroke-width:0.12px" textLength="52.8" lengthAdjust="spacingAndGlyphs" transform="rotate(-55.4 1123.6 2064.4)">553.14</text>
<line x1="604.0" y1="2000.0" x2="612.0" y2="2008.0" stroke="#000" stroke-width="0.9"/>
<line x1="612.0" y1="2000.0" x2="604.0" y2="2008.0" stroke="#000" stroke-width="0.9"/>
<line x1="844.5" y1="2000.0" x2="852.5" y2="2008.0" stroke="#000" stroke-width="0.9"/>
<line x1="852.5" y1="2000.0" x2="844.5" y2="2008.0" stroke="#000" stroke-width="0.9"/>
<line x1="1104.5" y1="2000.0" x2="1112.5" y2="2008.0" stroke="#000" stroke-width="0.9"/>
<line x1="1112.5" y1="2000.0" x2="1104.5" y2="2008.0" stroke="#000" stroke-width="0.9"/>
<text class="c" x="716.9" y="2029.9" font-size="15" style="stroke-width:0.12px" textLength="37.3" lengthAdjust="spacingAndGlyphs" >CURB</text>
<text class="c" x="676.0" y="1991.4" font-size="17" style="stroke-width:0.22px" textLength="111.1" lengthAdjust="spacingAndGlyphs" >4’ CONC. WALK</text>
<text class="c" x="788.9" y="954.2" font-size="17" style="stroke-width:0.22px" textLength="50.2" lengthAdjust="spacingAndGlyphs" >10’X15’</text>
<text class="c" x="792.0" y="972.4" font-size="17" style="stroke-width:0.22px" textLength="42.9" lengthAdjust="spacingAndGlyphs" >CONC.</text>
<text class="c" x="777.1" y="990.2" font-size="17" style="stroke-width:0.22px" textLength="72.7" lengthAdjust="spacingAndGlyphs" >FLATWORK</text>
<text class="c" x="812.0" y="1619.3" font-size="16.5" style="stroke-width:0.22px" textLength="31.4" lengthAdjust="spacingAndGlyphs" >COV.</text>
<text class="c" x="807.0" y="1636.4" font-size="16.5" style="stroke-width:0.22px" textLength="37.5" lengthAdjust="spacingAndGlyphs" >CONC</text>
<text class="c" x="1077.4" y="1440.0" font-size="16" style="stroke-width:0.22px" textLength="44.0" lengthAdjust="spacingAndGlyphs" transform="rotate(-90.0 1077.4 1440.0)">AC ON</text>
<text class="c" x="1093.5" y="1440.0" font-size="16" style="stroke-width:0.22px" textLength="38.0" lengthAdjust="spacingAndGlyphs" transform="rotate(-90.0 1093.5 1440.0)">CONC.</text>
<text class="c" x="723.7" y="1758.4" font-size="17" style="stroke-width:0.22px" textLength="63.4" lengthAdjust="spacingAndGlyphs" >3’ CONC.</text>
<text class="c" x="737.6" y="1774.9" font-size="17" style="stroke-width:0.22px" textLength="36.0" lengthAdjust="spacingAndGlyphs" >WALK</text>
<path d="M773.6,1769 L790,1769 C802,1768 799,1745 804,1730" stroke="#000" stroke-width="1" fill="none" />
<path d="M807.2,1718.9 L805.3,1736.1 L799.6,1734.4 Z" fill="#000"/>
<text class="c" x="951.0" y="1785.0" font-size="17" style="stroke-width:0.22px" textLength="20.0" lengthAdjust="spacingAndGlyphs" >17’</text>
<text class="c" x="941.0" y="1802.3" font-size="17" style="stroke-width:0.22px" textLength="41.4" lengthAdjust="spacingAndGlyphs" >CONC.</text>
<text class="c" x="941.9" y="1820.4" font-size="17" style="stroke-width:0.22px" textLength="39.3" lengthAdjust="spacingAndGlyphs" >DRIVE</text>
<text class="c" x="910.2" y="1811.6" font-size="16" style="stroke-width:0.22px" textLength="41.3" lengthAdjust="spacingAndGlyphs" transform="rotate(-90.0 910.2 1811.6)">SLOPE</text>
<text class="c" x="931.0" y="1807.6" font-size="15" style="stroke-width:0.12px" textLength="32.6" lengthAdjust="spacingAndGlyphs" transform="rotate(-90.0 931.0 1807.6)">4.8%</text>
<line x1="913.0" y1="1768.0" x2="913.0" y2="1836.4" stroke="#000" stroke-width="1"/>
<path d="M913.0,1818.4 L923.0,1818.4 L913.0,1836.4" stroke="#000" stroke-width="1" fill="none" stroke-linejoin="miter"/>
<text class="c" x="1008.5" y="1805.0" font-size="15" style="stroke-width:0.12px" textLength="29.5" lengthAdjust="spacingAndGlyphs" transform="rotate(-90.0 1008.5 1805.0)">4.6%</text>
<text class="c" x="1030.5" y="1811.6" font-size="16" style="stroke-width:0.22px" textLength="41.3" lengthAdjust="spacingAndGlyphs" transform="rotate(-90.0 1030.5 1811.6)">SLOPE</text>
<line x1="1014.0" y1="1768.0" x2="1014.0" y2="1835.6" stroke="#000" stroke-width="1"/>
<path d="M1014.0,1818.4 L1005.3,1818.4 L1014.0,1835.6" stroke="#000" stroke-width="1" fill="none" stroke-linejoin="miter"/>
<text class="c" x="490.6" y="947.1" font-size="17" style="stroke-width:0.22px" textLength="84.6" lengthAdjust="spacingAndGlyphs" >5’ BUILDING</text>
<text class="c" x="483.3" y="967.8" font-size="17" style="stroke-width:0.22px" textLength="102.6" lengthAdjust="spacingAndGlyphs" >SETBACK LINE</text>
<path d="M589.2,962.2 L606,962.5 C622,964 630,976 640,982" stroke="#000" stroke-width="1" fill="none" />
<path d="M657.0,992.2 L641.0,985.8 L643.8,981.1 Z" fill="#000"/>
<text class="c" x="469.9" y="1086.5" font-size="17" style="stroke-width:0.22px" textLength="72.5" lengthAdjust="spacingAndGlyphs" >5’ UTILITY</text>
<text class="c" x="467.2" y="1106.5" font-size="17" style="stroke-width:0.22px" textLength="75.2" lengthAdjust="spacingAndGlyphs" >EASEMENT</text>
<path d="M544,1099.9 L556,1099.5 C572,1097 580,1082 590,1076" stroke="#000" stroke-width="1" fill="none" />
<path d="M604.3,1067.4 L591.1,1078.5 L588.3,1073.8 Z" fill="#000"/>
<path d="M556,1099.5 C590,1102 615,1125 641,1137" stroke="#000" stroke-width="1" fill="none" />
<path d="M657.7,1144.3 L641.0,1140.0 L643.2,1135.0 Z" fill="#000"/>
<text class="c" x="1126.2" y="991.0" font-size="17" style="stroke-width:0.22px" textLength="85.4" lengthAdjust="spacingAndGlyphs" >5’ BUILDING</text>
<text class="c" x="1119.4" y="1009.8" font-size="17" style="stroke-width:0.22px" textLength="103.1" lengthAdjust="spacingAndGlyphs" >SETBACK LINE</text>
<path d="M1122,984.3 L1105,985 C1090,988 1082,1000 1074,1004" stroke="#000" stroke-width="1" fill="none" />
<path d="M1058.6,1013.6 L1071.4,1002.0 L1074.4,1006.7 Z" fill="#000"/>
<text class="c" x="1169.7" y="1074.2" font-size="17" style="stroke-width:0.22px" textLength="71.8" lengthAdjust="spacingAndGlyphs" >5’ UTILITY</text>
<text class="c" x="1169.7" y="1094.3" font-size="17" style="stroke-width:0.22px" textLength="74.2" lengthAdjust="spacingAndGlyphs" >EASEMENT</text>
<path d="M1168.7,1068.5 L1155,1068 C1140,1066 1135,1063 1128,1062.5" stroke="#000" stroke-width="1" fill="none" />
<path d="M1111.9,1061.8 L1129.0,1059.8 L1128.8,1065.3 Z" fill="#000"/>
<path d="M1155,1068 C1120,1074 1100,1100 1073,1116" stroke="#000" stroke-width="1" fill="none" />
<path d="M1056.7,1123.7 L1070.9,1113.9 L1073.2,1118.9 Z" fill="#000"/>
<text class="c" x="1296.7" y="737.5" font-size="17" style="stroke-width:0.22px" textLength="79.0" lengthAdjust="spacingAndGlyphs" >15’ UTILITY</text>
<text class="c" x="1297.5" y="756.3" font-size="17" style="stroke-width:0.22px" textLength="73.4" lengthAdjust="spacingAndGlyphs" >EASEMENT</text>
<path d="M1294.7,733.5 L1278,733.5 C1250,730 1240,690 1224,674" stroke="#000" stroke-width="1" fill="none" />
<path d="M1214.4,658.5 L1226.4,672.2 L1221.3,675.4 Z" fill="#000"/>
<path d="M1278,733.5 C1250,738 1240,775 1225,791" stroke="#000" stroke-width="1" fill="none" />
<path d="M1214.4,806.5 L1222.1,789.9 L1227.0,793.3 Z" fill="#000"/>
<text class="c" x="1342.8" y="932.8" font-size="17" style="stroke-width:0.22px" textLength="92.2" lengthAdjust="spacingAndGlyphs" >15’ BUILDING</text>
<text class="c" x="1336.8" y="950.9" font-size="17" style="stroke-width:0.22px" textLength="101.5" lengthAdjust="spacingAndGlyphs" >SETBACK LINE</text>
<path d="M1336.8,928 L1326,928 C1314,929 1310,938 1303,945" stroke="#000" stroke-width="1" fill="none" />
<path d="M1290.6,957.7 L1301.0,942.7 L1305.3,946.9 Z" fill="#000"/>
<text class="c" x="1342.5" y="1682.5" font-size="17" style="stroke-width:0.22px" textLength="94.2" lengthAdjust="spacingAndGlyphs" >20’ BUILDING</text>
<text class="c" x="1336.8" y="1700.9" font-size="17" style="stroke-width:0.22px" textLength="101.9" lengthAdjust="spacingAndGlyphs" >SETBACK LINE</text>
<path d="M1337.5,1677.5 L1326,1678 C1314,1680 1310,1688 1304,1694" stroke="#000" stroke-width="1" fill="none" />
<path d="M1291.3,1707.5 L1301.4,1692.3 L1305.8,1696.4 Z" fill="#000"/>
<text class="c" x="1372.6" y="1812.0" font-size="17" style="stroke-width:0.22px" textLength="80.8" lengthAdjust="spacingAndGlyphs" >20’ UTILITY</text>
<text class="c" x="1374.2" y="1831.4" font-size="17" style="stroke-width:0.22px" textLength="74.2" lengthAdjust="spacingAndGlyphs" >EASEMENT</text>
<path d="M1370.9,1806.3 L1355,1806.3 C1325,1800 1315,1750 1302,1725" stroke="#000" stroke-width="1" fill="none" />
<path d="M1291.3,1708.4 L1303.6,1721.9 L1298.5,1725.2 Z" fill="#000"/>
<path d="M1355,1806.3 C1325,1812 1315,1860 1302,1890" stroke="#000" stroke-width="1" fill="none" />
<path d="M1290.7,1907.3 L1298.0,1890.6 L1303.1,1893.9 Z" fill="#000"/>
<circle cx="1078.1" cy="1795.9" r="6.4" stroke="#000" stroke-width="2" fill="none"/>
<path d="M1130.8,1732.5 L1122,1733 C1112,1735 1109,1742 1107,1748 C1100,1760 1095,1770 1090,1779" stroke="#000" stroke-width="1" fill="none" />
<line x1="1089.8" y1="1779.0" x2="1080.8" y2="1793.3" stroke="#000" stroke-width="5"/>
<text class="c" x="1135.6" y="1737.3" font-size="16" style="stroke-width:0.22px" textLength="36.1" lengthAdjust="spacingAndGlyphs" >CATV</text>
<text class="c" x="1118.7" y="1755.5" font-size="16" style="stroke-width:0.22px" textLength="69.8" lengthAdjust="spacingAndGlyphs" >PEDESTAL</text>
<rect x="1119.5" y="1791.9" width="10.5" height="10.4" stroke="#000" stroke-width="2" fill="none"/>
<path d="M1167.7,1764.6 L1160,1765 C1150,1767 1146,1774 1140,1781" stroke="#000" stroke-width="1" fill="none" />
<line x1="1139.6" y1="1781.4" x2="1126.0" y2="1795.8" stroke="#000" stroke-width="5"/>
<text class="c" x="1168.5" y="1771.0" font-size="16" style="stroke-width:0.22px" textLength="48.9" lengthAdjust="spacingAndGlyphs" >A.T.&amp;T.</text>
<text class="c" x="1178.9" y="1787.9" font-size="16" style="stroke-width:0.22px" textLength="27.3" lengthAdjust="spacingAndGlyphs" >BOX</text>
<rect x="1094.7" y="1831.7" width="40.9" height="40.1" stroke="#000" stroke-width="2" fill="none"/>
<path d="M1138.8,1804.7 L1134,1805 C1128,1808 1127,1820 1125.1,1832.8" stroke="#000" stroke-width="1" fill="none" />
<path d="M1129,1834.5 L1122,1831.5 L1115.5,1852 Z" fill="#000"/>
<text class="c" x="1142.0" y="1809.5" font-size="16" style="stroke-width:0.22px" textLength="100.9" lengthAdjust="spacingAndGlyphs" >TRANSFORMER</text>
<text class="c" x="1156.4" y="1827.7" font-size="16" style="stroke-width:0.22px" textLength="70.6" lengthAdjust="spacingAndGlyphs" >ON CONC.</text>
<rect x="1065.8" y="1845.6" width="16.8" height="10.4" stroke="#000" stroke-width="2" fill="none"/>
<path d="M1118.7,1881.2 L1104,1881.2 C1096,1880 1093,1872 1089,1866.5" stroke="#000" stroke-width="1" fill="none" />
<line x1="1089.0" y1="1866.5" x2="1075.5" y2="1853.0" stroke="#000" stroke-width="5"/>
<text class="c" x="1121.9" y="1886.5" font-size="16" style="stroke-width:0.22px" textLength="35.3" lengthAdjust="spacingAndGlyphs" >GEVC</text>
<text class="c" x="1126.0" y="1904.2" font-size="16" style="stroke-width:0.22px" textLength="27.2" lengthAdjust="spacingAndGlyphs" >BOX</text>
<path d="M1044.1,1872.9 L1044.1,1898.6 L1075.4,1872.9 L1075.4,1898.6 Z" stroke="#000" stroke-width="2" fill="none" stroke-linejoin="miter"/>
<text class="cb" x="1047.5" y="1905.5" font-size="15" textLength="22.0" lengthAdjust="spacingAndGlyphs" >WM</text>
</g>
<g id="p07_table">
<line x1="60.0" y1="2143.9" x2="457.3" y2="2143.9" stroke="#7d7d7d" stroke-width="2"/>
<line x1="60.0" y1="2175.0" x2="457.3" y2="2175.0" stroke="#7d7d7d" stroke-width="2"/>
<line x1="60.0" y1="2206.6" x2="457.3" y2="2206.6" stroke="#7d7d7d" stroke-width="2"/>
<line x1="60.0" y1="2237.6" x2="457.3" y2="2237.6" stroke="#7d7d7d" stroke-width="2"/>
<line x1="60.0" y1="2269.0" x2="457.3" y2="2269.0" stroke="#7d7d7d" stroke-width="2"/>
<line x1="60.0" y1="2299.4" x2="457.3" y2="2299.4" stroke="#7d7d7d" stroke-width="2"/>
<line x1="60.0" y1="2331.6" x2="457.3" y2="2331.6" stroke="#7d7d7d" stroke-width="2"/>
<line x1="60.0" y1="2362.7" x2="457.3" y2="2362.7" stroke="#7d7d7d" stroke-width="2"/>
<line x1="60.0" y1="2394.0" x2="457.3" y2="2394.0" stroke="#7d7d7d" stroke-width="2"/>
<line x1="60.0" y1="2424.6" x2="457.3" y2="2424.6" stroke="#7d7d7d" stroke-width="2"/>
<line x1="60.0" y1="2457.0" x2="457.3" y2="2457.0" stroke="#7d7d7d" stroke-width="2"/>
<line x1="60.0" y1="2487.8" x2="457.3" y2="2487.8" stroke="#7d7d7d" stroke-width="2"/>
<line x1="60.0" y1="2519.4" x2="457.3" y2="2519.4" stroke="#7d7d7d" stroke-width="2"/>
<line x1="60.0" y1="2550.2" x2="457.3" y2="2550.2" stroke="#7d7d7d" stroke-width="2"/>
<line x1="60.0" y1="2582.0" x2="457.3" y2="2582.0" stroke="#7d7d7d" stroke-width="2"/>
<line x1="60.0" y1="2612.8" x2="457.3" y2="2612.8" stroke="#7d7d7d" stroke-width="2"/>
<line x1="60.0" y1="2643.9" x2="457.3" y2="2643.9" stroke="#7d7d7d" stroke-width="2"/>
<line x1="60.0" y1="2675.2" x2="457.3" y2="2675.2" stroke="#7d7d7d" stroke-width="2"/>
<line x1="60.0" y1="2706.8" x2="457.3" y2="2706.8" stroke="#7d7d7d" stroke-width="2"/>
<line x1="66.0" y1="2112.6" x2="457.3" y2="2112.6" stroke="#333" stroke-width="1.6"/>
<line x1="326.8" y1="2112.6" x2="326.8" y2="2735.0" stroke="#7d7d7d" stroke-width="2"/>
<line x1="457.3" y1="2112.6" x2="457.3" y2="2735.0" stroke="#7d7d7d" stroke-width="1.6"/>
<line x1="66.0" y1="2081.6" x2="457.3" y2="2081.6" stroke="#000" stroke-width="1.2"/>
<line x1="457.3" y1="2081.6" x2="457.3" y2="2112.6" stroke="#000" stroke-width="1.2"/>
<text class="ol" x="190.8" y="2105.5" font-size="26" textLength="104.4" lengthAdjust="spacingAndGlyphs" >A R E A S</text>
<text class="cn" x="75.9" y="2137.9" font-size="25.5" textLength="95.4" lengthAdjust="spacingAndGlyphs" >DRIVEWAY</text>
<text class="cn" x="453.0" y="2138.7" font-size="25.5" textLength="105.5" lengthAdjust="spacingAndGlyphs" text-anchor="end" >401 SQ. FT.</text>
<text class="cn" x="75.9" y="2169.2" font-size="25.5" textLength="102.3" lengthAdjust="spacingAndGlyphs" >APPROACH</text>
<text class="cn" x="453.0" y="2170.0" font-size="25.5" textLength="104.3" lengthAdjust="spacingAndGlyphs" text-anchor="end" >197 SQ. FT.</text>
<text class="cn" x="75.9" y="2200.3" font-size="25.5" textLength="108.1" lengthAdjust="spacingAndGlyphs" >LEAD WALK</text>
<text class="cn" x="453.0" y="2201.1" font-size="25.5" textLength="93.4" lengthAdjust="spacingAndGlyphs" text-anchor="end" >22 SQ. FT.</text>
<text class="cn" x="75.9" y="2231.9" font-size="25.5" textLength="128.2" lengthAdjust="spacingAndGlyphs" >PUBLIC WALK</text>
<text class="cn" x="453.0" y="2232.7" font-size="25.5" textLength="104.3" lengthAdjust="spacingAndGlyphs" text-anchor="end" >120 SQ. FT.</text>
<text class="cn" x="75.9" y="2262.9" font-size="25.5" textLength="52.9" lengthAdjust="spacingAndGlyphs" >PATIO</text>
<text class="cn" x="453.0" y="2263.7" font-size="25.5" textLength="104.3" lengthAdjust="spacingAndGlyphs" text-anchor="end" >150 SQ. FT.</text>
<text class="cn" x="75.9" y="2294.3" font-size="25.5" textLength="107.5" lengthAdjust="spacingAndGlyphs" >HVAC PADS</text>
<text class="cn" x="453.0" y="2295.1" font-size="25.5" textLength="92.0" lengthAdjust="spacingAndGlyphs" text-anchor="end" >16 SQ. FT.</text>
<text class="cn" x="75.9" y="2324.7" font-size="25.5" textLength="57.8" lengthAdjust="spacingAndGlyphs" >TOTAL</text>
<text class="cn" x="453.0" y="2325.5" font-size="25.5" textLength="106.0" lengthAdjust="spacingAndGlyphs" text-anchor="end" >906 SQ. FT.</text>
<text class="cn" x="75.9" y="2388.0" font-size="25.5" textLength="107.5" lengthAdjust="spacingAndGlyphs" >FRONT SOD</text>
<text class="cn" x="453.0" y="2388.8" font-size="25.5" textLength="104.3" lengthAdjust="spacingAndGlyphs" text-anchor="end" >180SQ. YD.</text>
<text class="cn" x="75.9" y="2419.3" font-size="25.5" textLength="94.3" lengthAdjust="spacingAndGlyphs" >REAR SOD</text>
<text class="cn" x="453.0" y="2420.1" font-size="25.5" textLength="104.3" lengthAdjust="spacingAndGlyphs" text-anchor="end" >106SQ. YD.</text>
<text class="cn" x="75.9" y="2482.3" font-size="25.5" textLength="124.7" lengthAdjust="spacingAndGlyphs" >TOTAL FENCE</text>
<text class="cn" x="453.0" y="2483.1" font-size="25.5" textLength="104.3" lengthAdjust="spacingAndGlyphs" text-anchor="end" >105 LN. FT.</text>
<text class="cn" x="75.9" y="2544.7" font-size="25.5" textLength="192.0" lengthAdjust="spacingAndGlyphs" >AVERAGE EXPOSURE</text>
<text class="cn" x="453.0" y="2545.5" font-size="25.5" textLength="28.5" lengthAdjust="spacingAndGlyphs" text-anchor="end" >25"</text>
<text class="cn" x="75.9" y="2575.5" font-size="25.5" textLength="121.9" lengthAdjust="spacingAndGlyphs" >DRIVE SLOPE</text>
<text class="cn" x="453.0" y="2576.3" font-size="25.5" textLength="44.3" lengthAdjust="spacingAndGlyphs" text-anchor="end" >4.8%</text>
<text class="cn" x="75.9" y="2607.3" font-size="25.5" textLength="223.6" lengthAdjust="spacingAndGlyphs" >IMPERVIOUS COVERAGE</text>
<text class="cn" x="453.0" y="2608.1" font-size="25.5" textLength="123.3" lengthAdjust="spacingAndGlyphs" text-anchor="end" >3,138 SQ. FT.</text>
<text class="cn" x="75.9" y="2638.1" font-size="25.5" textLength="245.4" lengthAdjust="spacingAndGlyphs" >IMPERVIOUS COVERAGE %</text>
<text class="cn" x="453.0" y="2638.9" font-size="25.5" textLength="38.5" lengthAdjust="spacingAndGlyphs" text-anchor="end" >57%</text>
<text class="cn" x="75.9" y="2669.2" font-size="25.5" textLength="102.3" lengthAdjust="spacingAndGlyphs" >SLAB AREA</text>
<text class="cn" x="453.0" y="2670.0" font-size="25.5" textLength="123.3" lengthAdjust="spacingAndGlyphs" text-anchor="end" >2,550 SQ. FT.</text>
<text class="cn" x="75.9" y="2700.5" font-size="25.5" textLength="89.7" lengthAdjust="spacingAndGlyphs" >LOT AREA</text>
<text class="cn" x="453.0" y="2701.3" font-size="25.5" textLength="123.3" lengthAdjust="spacingAndGlyphs" text-anchor="end" >5,500 SQ. FT.</text>
</g>
<g id="p08_title">
<text class="ti" x="654.5" y="2422.1" font-size="25" textLength="193.8" lengthAdjust="spacingAndGlyphs" >SITE PLAN OF</text>
<text class="ti" x="625.7" y="2449.0" font-size="25" textLength="252.7" lengthAdjust="spacingAndGlyphs" >2109 MAESTRO DR</text>
<text class="ti" x="620.4" y="2475.5" font-size="25" textLength="263.6" lengthAdjust="spacingAndGlyphs" >LOT 396, BLOCK 21</text>
<text class="ti" x="474.0" y="2509.2" font-size="35.5" textLength="558.8" lengthAdjust="spacingAndGlyphs" >HIDDENBROOKE SUBDIVISION,</text>
<text class="ti" x="685.8" y="2543.7" font-size="35.5" textLength="130.0" lengthAdjust="spacingAndGlyphs" >UNIT 3</text>
<text class="ti" x="639.3" y="2573.3" font-size="25" textLength="221.8" lengthAdjust="spacingAndGlyphs" >CITY OF SEGUIN</text>
<text class="ti" x="562.3" y="2599.8" font-size="25" textLength="377.0" lengthAdjust="spacingAndGlyphs" >GUADALUPE COUNTY, TEXAS</text>
<text class="cn2" x="644.5" y="2656.8" font-size="20.5" style="stroke-width:0.24px" textLength="109.5" lengthAdjust="spacingAndGlyphs" >DRAWN BY:</text>
<text class="cn2" x="784.1" y="2655.5" font-size="20.5" style="stroke-width:0.24px" textLength="35.7" lengthAdjust="spacingAndGlyphs" >A.R.</text>
<line x1="765.7" y1="2658.3" x2="833.0" y2="2658.3" stroke="#000" stroke-width="1.3"/>
<text class="cn2" x="644.5" y="2684.9" font-size="20.5" style="stroke-width:0.24px" textLength="51.4" lengthAdjust="spacingAndGlyphs" >DATE:</text>
<text class="cn2" x="716.7" y="2682.5" font-size="20.5" style="stroke-width:0.24px" textLength="114.3" lengthAdjust="spacingAndGlyphs" >9/24/2025</text>
<line x1="707.9" y1="2686.5" x2="868.0" y2="2686.5" stroke="#000" stroke-width="1.3"/>
<text class="cn2" x="644.5" y="2712.1" font-size="20.5" style="stroke-width:0.24px" textLength="83.4" lengthAdjust="spacingAndGlyphs" >REVISED:</text>
<text class="cn2" x="748.8" y="2709.5" font-size="20.5" style="stroke-width:0.24px" textLength="100.3" lengthAdjust="spacingAndGlyphs" >1/2/2026</text>
<line x1="740.8" y1="2713.2" x2="861.1" y2="2713.2" stroke="#000" stroke-width="1.3"/>
</g>
<g id="p09_logo">
<line x1="1055.0" y1="2606.5" x2="1634.0" y2="2606.5" stroke="#000" stroke-width="2.7"/>
<path d="M1119.0,2680.3 A110.6,110.6 0 1 1 1274.0,2680.3 L1259.0,2665.0 A89.2,89.2 0 1 0 1134.0,2665.0 Z" fill="#d9592c" stroke="#000" stroke-width="0.8"/>
<path d="M1261.7,2691.2 A111,111 0 0 1 1131.3,2691.2 L1144.5,2673.0 A88.5,88.5 0 0 0 1248.5,2673.0 Z" fill="#231f20"/>
<path d="M1191.3,2465.6 A5.2,5.2 0 0 1 1201.7,2465.6 L1201.7,2740 L1191.3,2740 Z" fill="#231f20"/>
<circle cx="1196.5" cy="2601.4" r="62.85" fill="none" stroke="#231f20" stroke-width="16.9"/>
<path d="M1182.1,2556.0 L1210.5,2556.0 L1225.9,2572.1 L1225.9,2582.4 L1209.2,2582.4 L1209.2,2577.4 L1203.5,2572.1 L1184.1,2572.1 L1184.1,2586.8 L1190.1,2591.8 L1215.8,2591.8 L1225.9,2601.8 L1225.9,2629.9 L1210.5,2645.6 L1183.4,2645.6 L1168.0,2629.9 L1168.0,2619.2 L1183.8,2619.2 L1183.8,2623.9 L1190.1,2629.6 L1203.5,2629.6 L1209.2,2624.6 L1209.2,2607.5 L1182.8,2607.5 L1168.0,2592.8 L1168.0,2570.1 Z" fill="#d9592c"/>
<rect x="1191.3" y="2572.1" width="10.4" height="19.7" fill="#231f20"/>
<rect x="1191.3" y="2607.5" width="10.4" height="22.1" fill="#231f20"/>
<line x1="1196.2" y1="2556.0" x2="1196.2" y2="2572.0" stroke="#000" stroke-width="1.2"/>
<line x1="1209.2" y1="2609.6" x2="1225.2" y2="2609.6" stroke="#000" stroke-width="1.5"/>
<text class="cn2" x="1352.9" y="2565.0" font-size="27.5" style="stroke-width:0.33px" textLength="222.9" lengthAdjust="spacingAndGlyphs" >SINCLAIR LAND</text>
<text class="cn2" x="1348.7" y="2593.2" font-size="27.5" style="stroke-width:0.33px" textLength="243.7" lengthAdjust="spacingAndGlyphs" >SURVEYING, INC.</text>
<text class="cn2" x="1368.6" y="2630.5" font-size="21" style="stroke-width:0.24px" textLength="188.2" lengthAdjust="spacingAndGlyphs" >3411 MAGIC DRIVE</text>
<text class="cn2" x="1319.7" y="2652.1" font-size="21" style="stroke-width:0.24px" textLength="286.0" lengthAdjust="spacingAndGlyphs" >SAN ANTONIO, TEXAS 78229</text>
<text class="cn2" x="1387.3" y="2673.6" font-size="21" style="stroke-width:0.24px" textLength="150.0" lengthAdjust="spacingAndGlyphs" >210–341–4518</text>
<text class="cn2" x="1328.0" y="2691.4" font-size="21" style="stroke-width:0.24px" textLength="271.5" lengthAdjust="spacingAndGlyphs" >TBPELS FIRM NO.10089000</text>
<text class="cn2" x="1319.7" y="2715.5" font-size="21" style="stroke-width:0.24px" textLength="286.0" lengthAdjust="spacingAndGlyphs" >JOB NUMBER: S–202583590</text>
</g>
</svg></body></html>
